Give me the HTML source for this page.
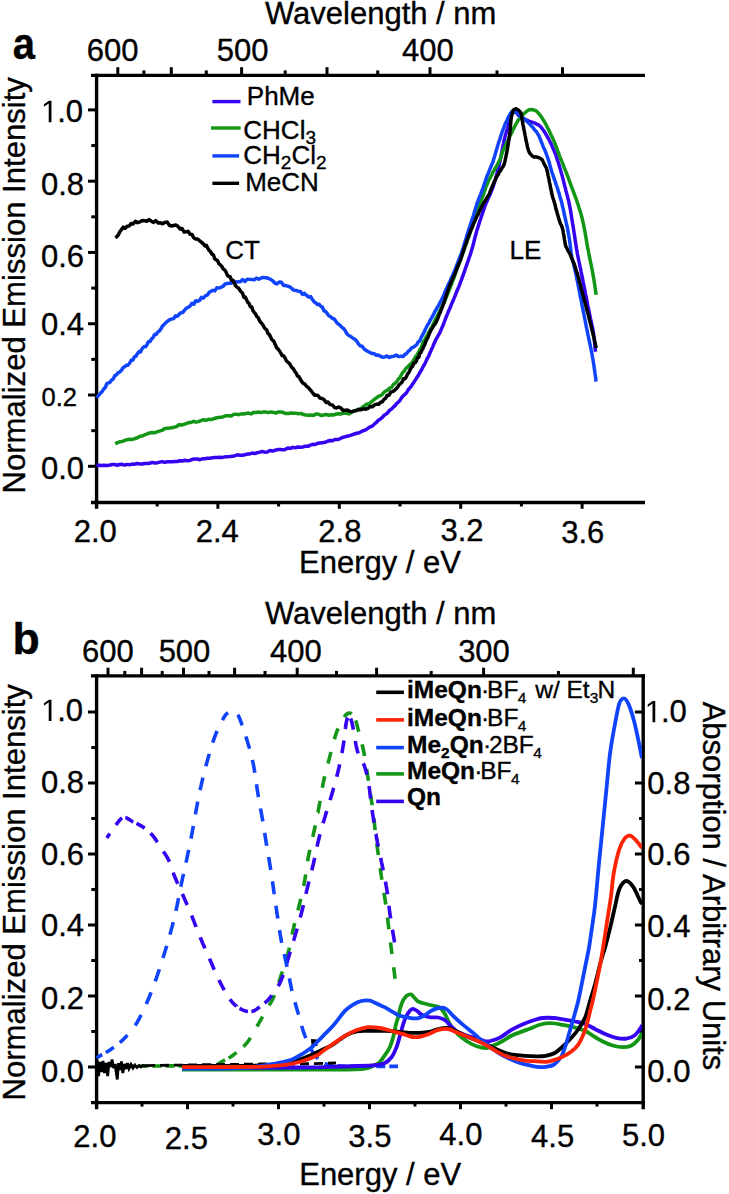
<!DOCTYPE html>
<html><head><meta charset="utf-8"><style>
html,body{margin:0;padding:0;background:#fff;}
svg{display:block;font-family:"Liberation Sans", sans-serif;}
text{stroke:#000;stroke-width:0.35px;}
</style></head><body>
<svg width="729" height="1194" viewBox="0 0 729 1194">
<rect width="729" height="1194" fill="#fff"/>
<line x1="96.60" y1="73.70" x2="96.60" y2="508.80" stroke="#000" stroke-width="3.4" stroke-linecap="butt"/>
<line x1="91.00" y1="75.40" x2="645.00" y2="75.40" stroke="#000" stroke-width="3.4" stroke-linecap="butt"/>
<line x1="91.00" y1="502.50" x2="645.00" y2="502.50" stroke="#000" stroke-width="3.4" stroke-linecap="butt"/>
<line x1="88.00" y1="466.30" x2="96.60" y2="466.30" stroke="#000" stroke-width="3.0" stroke-linecap="butt"/>
<line x1="88.00" y1="395.02" x2="96.60" y2="395.02" stroke="#000" stroke-width="3.0" stroke-linecap="butt"/>
<line x1="88.00" y1="323.74" x2="96.60" y2="323.74" stroke="#000" stroke-width="3.0" stroke-linecap="butt"/>
<line x1="88.00" y1="252.46" x2="96.60" y2="252.46" stroke="#000" stroke-width="3.0" stroke-linecap="butt"/>
<line x1="88.00" y1="181.18" x2="96.60" y2="181.18" stroke="#000" stroke-width="3.0" stroke-linecap="butt"/>
<line x1="88.00" y1="109.90" x2="96.60" y2="109.90" stroke="#000" stroke-width="3.0" stroke-linecap="butt"/>
<line x1="91.30" y1="430.66" x2="96.60" y2="430.66" stroke="#000" stroke-width="3.0" stroke-linecap="butt"/>
<line x1="91.30" y1="359.38" x2="96.60" y2="359.38" stroke="#000" stroke-width="3.0" stroke-linecap="butt"/>
<line x1="91.30" y1="288.10" x2="96.60" y2="288.10" stroke="#000" stroke-width="3.0" stroke-linecap="butt"/>
<line x1="91.30" y1="216.82" x2="96.60" y2="216.82" stroke="#000" stroke-width="3.0" stroke-linecap="butt"/>
<line x1="91.30" y1="145.54" x2="96.60" y2="145.54" stroke="#000" stroke-width="3.0" stroke-linecap="butt"/>
<line x1="217.90" y1="502.50" x2="217.90" y2="508.80" stroke="#000" stroke-width="3.0" stroke-linecap="butt"/>
<line x1="339.30" y1="502.50" x2="339.30" y2="508.80" stroke="#000" stroke-width="3.0" stroke-linecap="butt"/>
<line x1="460.70" y1="502.50" x2="460.70" y2="508.80" stroke="#000" stroke-width="3.0" stroke-linecap="butt"/>
<line x1="582.10" y1="502.50" x2="582.10" y2="508.80" stroke="#000" stroke-width="3.0" stroke-linecap="butt"/>
<line x1="157.20" y1="502.50" x2="157.20" y2="506.50" stroke="#000" stroke-width="3.0" stroke-linecap="butt"/>
<line x1="278.60" y1="502.50" x2="278.60" y2="506.50" stroke="#000" stroke-width="3.0" stroke-linecap="butt"/>
<line x1="400.00" y1="502.50" x2="400.00" y2="506.50" stroke="#000" stroke-width="3.0" stroke-linecap="butt"/>
<line x1="521.40" y1="502.50" x2="521.40" y2="506.50" stroke="#000" stroke-width="3.0" stroke-linecap="butt"/>
<line x1="117.80" y1="75.40" x2="117.80" y2="67.20" stroke="#000" stroke-width="3.0" stroke-linecap="butt"/>
<line x1="171.30" y1="75.40" x2="171.30" y2="67.20" stroke="#000" stroke-width="3.0" stroke-linecap="butt"/>
<line x1="241.60" y1="75.40" x2="241.60" y2="67.20" stroke="#000" stroke-width="3.0" stroke-linecap="butt"/>
<line x1="327.00" y1="75.40" x2="327.00" y2="67.20" stroke="#000" stroke-width="3.0" stroke-linecap="butt"/>
<line x1="430.00" y1="75.40" x2="430.00" y2="67.20" stroke="#000" stroke-width="3.0" stroke-linecap="butt"/>
<line x1="562.50" y1="75.40" x2="562.50" y2="67.20" stroke="#000" stroke-width="3.0" stroke-linecap="butt"/>
<line x1="143.90" y1="75.40" x2="143.90" y2="70.40" stroke="#000" stroke-width="3.0" stroke-linecap="butt"/>
<line x1="206.30" y1="75.40" x2="206.30" y2="70.40" stroke="#000" stroke-width="3.0" stroke-linecap="butt"/>
<line x1="285.20" y1="75.40" x2="285.20" y2="70.40" stroke="#000" stroke-width="3.0" stroke-linecap="butt"/>
<line x1="377.70" y1="75.40" x2="377.70" y2="70.40" stroke="#000" stroke-width="3.0" stroke-linecap="butt"/>
<line x1="497.00" y1="75.40" x2="497.00" y2="70.40" stroke="#000" stroke-width="3.0" stroke-linecap="butt"/>
<text x="12.70" y="59.20" font-size="44" text-anchor="start" font-weight="bold" transform="translate(12.7,59.2) scale(0.91,1.025) translate(-12.7,-59.2)">a</text>
<text x="380.70" y="23.80" font-size="31" text-anchor="middle" font-weight="normal" >Wavelength / nm</text>
<text x="112.70" y="60.60" font-size="31" text-anchor="middle" font-weight="normal" >600</text>
<text x="242.70" y="60.60" font-size="31" text-anchor="middle" font-weight="normal" >500</text>
<text x="427.90" y="60.60" font-size="31" text-anchor="middle" font-weight="normal" >400</text>
<path d="M51.47,122.15 L48.73,122.15 L48.73,103.43 L43.92,106.86 L43.92,104.29 L48.96,100.82 L51.47,100.82 Z" fill="#000"/>
<text x="57.15" y="122.15" font-size="31" text-anchor="start" font-weight="normal" >.0</text>
<text x="84.00" y="195.25" font-size="31" text-anchor="end" font-weight="normal" >0.8</text>
<text x="84.00" y="267.15" font-size="31" text-anchor="end" font-weight="normal" >0.6</text>
<text x="84.00" y="335.35" font-size="31" text-anchor="end" font-weight="normal" >0.4</text>
<text x="84.00" y="479.45" font-size="31" text-anchor="end" font-weight="normal" >0.0</text>
<text x="77.00" y="405.90" font-size="25.5" text-anchor="end" font-weight="normal" >0.2</text>
<text x="95.20" y="541.70" font-size="31" text-anchor="middle" font-weight="normal" >2.0</text>
<text x="217.30" y="541.70" font-size="31" text-anchor="middle" font-weight="normal" >2.4</text>
<text x="339.90" y="541.70" font-size="31" text-anchor="middle" font-weight="normal" >2.8</text>
<text x="462.00" y="541.20" font-size="31" text-anchor="middle" font-weight="normal" >3.2</text>
<text x="582.70" y="543.20" font-size="31" text-anchor="middle" font-weight="normal" >3.6</text>
<text x="380.00" y="573.20" font-size="31" text-anchor="middle" font-weight="normal" >Energy / eV</text>
<text transform="translate(24.8,285.3) rotate(-90)" font-size="31.1" text-anchor="middle">Normalized Emission Intensity</text>
<text x="242.60" y="258.60" font-size="26" text-anchor="middle" font-weight="normal" >CT</text>
<text x="525.50" y="258.60" font-size="26" text-anchor="middle" font-weight="normal" >LE</text>
<path d="M96.60,465.60 L99.15,465.20 L101.68,465.48 L104.11,465.19 L106.76,465.38 L109.27,465.32 L111.87,464.55 L114.49,464.39 L117.11,465.28 L119.66,464.48 L122.10,464.34 L124.64,465.13 L127.12,464.38 L129.60,464.69 L132.10,464.12 L134.60,464.18 L137.11,463.45 L139.62,463.88 L142.13,464.01 L144.64,463.44 L147.15,463.54 L149.65,463.29 L152.16,462.39 L154.68,463.05 L157.19,462.67 L159.71,462.13 L162.22,461.62 L164.73,462.42 L167.24,461.75 L169.76,461.85 L172.27,461.84 L174.78,461.44 L177.29,461.49 L179.81,460.65 L182.32,460.94 L184.83,460.31 L187.35,460.70 L189.86,460.43 L192.37,459.29 L194.88,459.12 L197.40,459.01 L199.91,459.69 L202.43,458.83 L204.94,458.82 L207.45,458.19 L209.95,458.20 L212.45,457.80 L214.95,457.51 L217.45,457.53 L219.95,457.27 L222.45,457.38 L224.95,456.84 L227.45,456.86 L229.95,456.50 L232.45,456.37 L234.94,455.70 L237.42,454.80 L239.89,455.35 L242.35,455.17 L244.81,454.80 L247.27,454.09 L249.75,453.95 L252.24,453.03 L254.74,453.46 L257.27,452.82 L259.83,452.14 L262.30,451.55 L264.80,452.17 L267.34,452.00 L269.92,450.57 L272.52,451.08 L275.12,450.26 L277.70,449.59 L280.25,449.41 L282.75,449.64 L285.19,449.42 L287.76,448.07 L290.29,448.40 L292.83,447.36 L295.24,447.83 L297.80,447.02 L300.26,447.34 L302.66,447.12 L305.26,446.16 L307.87,446.33 L310.27,445.09 L312.74,444.35 L315.20,444.49 L317.67,443.31 L320.13,442.98 L322.59,442.68 L325.05,442.35 L327.51,441.22 L329.96,440.47 L332.42,440.83 L334.87,439.52 L337.37,439.60 L339.94,438.80 L342.27,437.49 L344.60,436.90 L347.13,436.20 L349.58,435.58 L351.90,434.79 L354.25,433.98 L356.79,433.21 L359.14,432.81 L361.60,431.42 L363.93,430.40 L366.14,429.72 L368.28,427.99 L370.36,426.76 L372.34,426.16 L374.30,424.09 L376.35,422.48 L378.27,420.28 L380.16,419.18 L382.11,417.71 L384.06,415.31 L385.98,414.30 L387.82,412.62 L389.70,410.17 L391.54,409.08 L393.33,407.10 L395.07,405.58 L396.77,403.41 L398.48,401.99 L400.16,400.15 L401.78,397.41 L403.38,395.56 L404.98,394.33 L406.55,392.72 L408.06,389.98 L409.57,388.29 L411.08,386.47 L412.60,384.07 L414.10,381.94 L415.42,379.85 L416.76,377.79 L418.09,375.87 L419.41,373.28 L420.69,371.21 L421.94,369.19 L423.15,366.60 L424.32,364.66 L425.45,362.54 L426.55,360.10 L427.65,357.81 L428.75,355.79 L429.83,353.22 L430.90,350.81 L431.88,348.72 L432.85,346.63 L433.90,343.93 L434.90,341.79 L435.91,339.60 L437.07,337.58 L438.41,335.15 L439.65,333.17 L440.76,330.48 L441.78,328.16 L442.70,326.05 L443.66,323.74 L444.55,321.26 L445.44,318.86 L446.33,316.55 L447.30,314.35 L448.27,311.84 L449.24,309.82 L450.21,307.53 L451.18,304.90 L452.16,302.63 L453.13,300.57 L454.11,298.14 L455.06,295.92 L456.00,293.40 L456.95,291.01 L457.90,288.79 L458.84,286.70 L459.79,284.07 L460.73,281.67 L461.62,279.32 L462.49,276.94 L463.37,274.45 L464.17,272.42 L464.95,269.76 L465.81,267.20 L466.62,265.28 L467.45,262.81 L468.31,260.33 L469.14,257.66 L470.00,255.44 L470.78,253.08 L471.51,250.39 L472.25,248.17 L472.92,245.73 L473.54,243.26 L474.18,240.70 L474.83,238.04 L475.50,235.50 L476.21,232.88 L476.92,230.36 L477.67,228.16 L478.45,225.47 L479.17,223.43 L479.98,220.54 L480.76,218.54 L481.58,215.95 L482.41,213.60 L483.19,211.30 L484.01,209.00 L484.86,206.54 L485.75,203.96 L486.64,202.09 L487.70,199.40 L488.79,197.12 L489.79,195.04 L490.73,192.76 L491.67,190.42 L492.62,188.21 L493.42,185.73 L494.24,183.11 L494.98,180.65 L495.66,178.62 L496.32,176.06 L496.96,173.82 L497.61,171.12 L498.22,168.65 L498.84,166.25 L499.41,163.92 L499.94,161.20 L500.45,159.03 L500.92,156.67 L501.40,154.08 L501.89,151.49 L502.38,148.47 L502.89,146.19 L503.41,143.80 L503.95,141.01 L504.52,138.76 L505.13,136.35 L505.78,134.09 L506.43,131.69 L507.15,129.21 L507.84,127.01 L508.54,124.27 L509.32,121.72 L510.06,119.34 L510.85,116.98 L511.84,114.61 L513.05,112.86 L515.00,111.68 L516.78,113.02 L518.39,115.30 L520.26,116.78 L522.40,117.99 L524.79,119.14 L527.20,120.36 L529.61,121.35 L531.88,122.09 L534.30,122.92 L536.75,124.09 L538.96,125.17 L540.89,127.00 L542.50,129.08 L543.89,131.04 L545.15,132.98 L546.48,135.24 L547.81,137.55 L549.02,139.78 L550.25,142.20 L551.38,144.35 L552.45,146.97 L553.45,149.23 L554.44,151.57 L555.40,154.00 L556.30,156.50 L557.11,158.93 L557.86,161.09 L558.59,163.55 L559.30,165.84 L560.04,168.27 L560.75,170.89 L561.45,173.48 L562.10,175.54 L562.75,178.17 L563.41,180.66 L564.07,183.40 L564.72,185.93 L565.35,188.10 L565.99,190.85 L566.64,193.33 L567.29,195.62 L567.92,198.24 L568.52,200.51 L569.11,203.42 L569.68,205.95 L570.16,208.50 L570.59,210.94 L571.00,213.46 L571.39,216.07 L571.78,218.42 L572.20,220.74 L572.60,223.45 L573.01,225.76 L573.42,228.45 L573.80,231.14 L574.20,233.36 L574.59,235.96 L574.96,238.44 L575.34,241.40 L575.74,243.66 L576.12,245.96 L576.55,248.99 L577.00,251.21 L577.45,254.01 L577.92,256.38 L578.42,258.93 L578.93,261.47 L579.44,263.77 L579.96,266.37 L580.48,268.49 L581.00,271.34 L581.50,273.69 L581.99,276.25 L582.49,278.40 L582.99,281.19 L583.48,283.74 L583.98,285.77 L584.47,288.36 L584.96,290.94 L585.45,293.53 L585.95,295.72 L586.45,298.22 L586.95,300.81 L587.45,303.55 L587.94,306.16 L588.43,308.48 L588.91,310.91 L589.39,313.30 L589.91,315.88 L590.42,318.30 L590.99,320.64 L591.54,323.25 L592.08,325.85 L592.58,327.95 L593.05,330.57 L593.47,332.81 L593.83,335.67 L594.14,338.23 L594.42,340.80 L594.69,343.32 L594.93,345.77 L595.16,348.33 L595.39,350.87 L595.50,351.70" fill="none" stroke="#3502f2" stroke-width="3.5" stroke-linejoin="round" stroke-linecap="butt"/>
<path d="M115.20,443.70 L117.69,442.57 L120.17,441.65 L122.55,441.45 L124.89,440.40 L127.34,439.55 L129.88,439.36 L132.44,439.45 L134.99,438.53 L137.42,437.76 L139.86,436.17 L142.38,435.91 L144.74,434.77 L147.14,433.86 L149.58,433.01 L152.04,432.43 L154.52,432.82 L157.00,431.91 L159.48,431.15 L161.93,430.43 L164.36,428.78 L166.78,428.30 L169.21,428.14 L171.63,427.66 L174.05,427.21 L176.48,426.62 L178.90,424.73 L181.32,424.95 L183.75,424.46 L186.17,423.62 L188.60,422.54 L191.03,422.47 L193.48,421.33 L195.96,422.17 L198.44,421.58 L200.92,420.60 L203.39,419.76 L205.87,420.30 L208.35,419.33 L210.83,419.41 L213.31,418.95 L215.79,418.01 L218.26,417.46 L220.75,417.36 L223.29,416.69 L225.84,415.85 L228.42,415.68 L230.99,416.10 L233.55,414.49 L236.09,414.13 L238.59,414.72 L241.05,413.84 L243.44,413.95 L246.00,413.55 L248.58,413.08 L251.01,413.89 L253.62,412.38 L256.14,412.53 L258.60,412.03 L261.03,412.60 L263.44,411.93 L265.86,412.00 L268.31,412.60 L270.84,411.93 L273.37,412.39 L275.89,413.06 L278.39,411.93 L280.90,412.05 L283.40,412.51 L285.92,413.56 L288.46,413.49 L290.98,413.04 L293.46,413.34 L295.95,413.25 L298.45,413.86 L300.96,413.36 L303.47,414.55 L305.99,415.01 L308.50,415.22 L311.00,414.95 L313.54,415.37 L316.18,413.89 L318.62,414.32 L321.07,415.40 L323.50,415.07 L326.13,414.44 L328.64,415.25 L331.21,414.67 L333.71,414.91 L336.30,413.98 L338.83,413.69 L341.38,413.91 L343.91,413.15 L346.36,413.26 L348.85,413.90 L351.22,412.47 L353.70,411.22 L356.06,410.24 L358.25,409.26 L360.49,408.92 L362.59,407.00 L364.75,405.61 L366.91,404.01 L369.13,404.07 L371.34,401.80 L373.48,400.07 L375.58,398.44 L377.62,397.05 L379.59,395.84 L381.59,395.19 L383.68,392.71 L385.56,391.04 L387.50,390.19 L389.49,388.15 L391.45,387.64 L393.33,384.49 L395.08,383.36 L396.75,381.76 L398.29,379.11 L399.75,377.94 L401.19,375.05 L402.65,372.67 L404.26,370.94 L405.94,368.39 L407.62,367.11 L409.26,364.96 L410.84,364.10 L412.40,362.04 L413.90,359.62 L415.48,356.77 L416.90,355.04 L418.20,352.89 L419.38,350.61 L420.44,348.44 L421.50,347.13 L422.56,343.58 L423.65,341.06 L424.77,340.14 L425.91,337.37 L427.15,335.79 L428.42,332.63 L429.62,331.33 L430.89,328.48 L432.12,326.26 L433.29,323.98 L434.46,321.57 L435.60,319.12 L436.78,316.82 L437.87,314.98 L438.96,312.80 L440.03,310.64 L441.17,308.00 L442.25,305.92 L443.33,303.73 L444.36,301.43 L445.38,299.27 L446.38,296.85 L447.39,294.55 L448.35,292.23 L449.33,289.57 L450.26,287.55 L451.15,285.28 L452.05,282.46 L452.95,280.48 L453.84,278.03 L454.73,275.46 L455.59,272.78 L456.42,270.92 L457.30,268.11 L458.14,266.22 L459.02,263.60 L459.90,260.82 L460.73,258.55 L461.62,256.31 L462.47,253.94 L463.36,251.61 L464.20,249.42 L465.07,246.74 L465.95,244.24 L466.84,242.26 L467.74,239.32 L468.55,237.47 L469.39,234.68 L470.19,232.68 L471.01,230.21 L471.83,227.75 L472.67,225.06 L473.49,222.70 L474.30,219.89 L475.09,217.74 L475.92,215.10 L476.80,212.84 L477.66,210.36 L478.56,207.72 L479.42,205.41 L480.34,202.71 L481.23,200.31 L482.12,198.17 L483.00,195.63 L483.87,193.31 L484.71,190.72 L485.54,188.10 L486.37,185.95 L487.31,183.76 L488.34,181.33 L489.48,178.74 L490.60,176.99 L491.79,174.76 L493.02,172.07 L494.26,170.08 L495.47,167.88 L496.67,165.88 L497.88,163.49 L499.07,161.25 L500.19,159.04 L501.09,156.91 L501.82,154.10 L502.64,151.62 L503.60,149.46 L504.65,147.24 L505.69,144.82 L506.82,142.40 L507.89,140.40 L508.96,138.17 L510.12,135.46 L511.20,133.70 L512.27,131.19 L513.39,128.99 L514.47,127.10 L515.63,124.65 L516.88,122.58 L518.18,120.17 L519.76,118.40 L521.47,116.15 L523.22,114.41 L525.11,112.70 L526.99,111.03 L529.13,109.84 L531.60,109.50 L533.95,110.00 L536.20,110.95 L538.10,112.81 L539.87,114.91 L541.36,116.85 L542.77,119.13 L544.06,121.20 L545.35,123.30 L546.57,125.63 L547.74,128.16 L548.91,130.23 L550.04,132.74 L551.11,135.08 L552.15,137.09 L553.19,139.39 L554.19,141.68 L555.15,143.89 L556.05,146.51 L556.94,148.63 L557.86,151.34 L558.70,153.31 L559.63,156.08 L560.53,158.40 L561.46,160.70 L562.39,162.94 L563.30,165.05 L564.22,167.63 L565.14,169.74 L566.09,172.30 L566.95,174.31 L567.84,176.62 L568.73,179.03 L569.63,181.77 L570.53,183.88 L571.43,186.67 L572.31,188.77 L573.20,191.23 L574.09,193.49 L574.99,196.01 L575.86,198.13 L576.70,200.64 L577.50,203.22 L578.32,205.32 L579.11,208.05 L579.88,210.35 L580.60,212.76 L581.27,214.97 L581.94,217.44 L582.58,220.39 L583.14,222.75 L583.64,225.14 L584.13,227.68 L584.60,230.23 L585.06,232.34 L585.52,235.10 L585.95,237.54 L586.39,240.16 L586.80,242.73 L587.22,245.04 L587.65,247.53 L588.12,249.70 L588.59,252.47 L589.08,254.95 L589.59,257.45 L590.10,259.85 L590.62,262.42 L591.14,264.62 L591.64,267.41 L592.14,269.64 L592.61,272.25 L593.06,274.94 L593.47,277.30 L593.89,279.67 L594.30,282.24 L594.70,284.85 L595.07,287.47 L595.46,290.19 L595.82,292.55 L596.20,294.75 L596.20,294.80" fill="none" stroke="#139616" stroke-width="3.5" stroke-linejoin="round" stroke-linecap="butt"/>
<path d="M96.60,397.60 L97.98,396.11 L99.43,394.50 L100.94,392.67 L102.37,391.19 L103.84,388.85 L105.29,387.51 L106.84,383.55 L108.39,382.89 L109.98,382.37 L111.58,380.06 L113.18,379.08 L114.80,375.64 L116.40,374.96 L118.00,372.89 L119.67,372.02 L121.33,370.55 L122.99,367.68 L124.65,366.65 L126.31,365.26 L127.97,365.21 L129.60,363.25 L131.16,360.21 L132.73,360.13 L134.31,356.91 L135.88,356.39 L137.45,353.54 L139.03,351.55 L140.56,351.97 L142.19,348.59 L143.79,346.82 L145.39,346.84 L146.87,344.91 L148.39,341.80 L149.98,341.63 L151.52,338.91 L153.11,337.42 L154.59,334.56 L156.12,334.56 L157.67,332.17 L159.23,331.07 L160.81,329.18 L162.37,326.13 L164.09,324.63 L165.85,322.64 L167.71,321.18 L169.58,319.72 L171.45,319.12 L173.53,318.58 L175.60,315.85 L177.47,316.22 L179.28,314.08 L181.04,312.62 L182.80,312.41 L184.56,310.13 L186.32,308.27 L188.09,307.23 L189.85,306.38 L191.80,303.37 L193.71,304.28 L195.64,300.78 L197.56,301.38 L199.49,300.49 L201.41,297.40 L203.34,298.13 L205.27,295.95 L207.18,295.23 L209.09,292.56 L211.00,291.32 L212.92,290.31 L214.83,290.87 L216.74,287.83 L218.65,288.06 L220.68,287.45 L222.81,286.51 L224.94,284.20 L227.06,283.45 L229.19,283.17 L231.31,283.15 L233.45,281.00 L235.73,282.08 L238.03,281.86 L240.34,281.76 L242.61,279.57 L244.81,281.53 L247.18,279.18 L249.60,279.37 L251.93,279.58 L254.15,279.89 L256.47,278.11 L258.87,279.22 L261.21,278.05 L263.58,277.41 L266.00,277.76 L268.26,278.32 L270.35,279.24 L272.39,280.59 L274.57,282.84 L276.85,283.94 L279.22,282.03 L281.43,282.26 L283.63,285.48 L285.69,285.47 L287.83,286.29 L289.91,286.90 L292.02,288.75 L294.17,290.32 L296.24,290.40 L298.23,291.27 L300.39,291.43 L302.54,294.54 L304.55,293.39 L306.64,295.39 L308.73,297.15 L310.70,296.61 L312.43,299.55 L314.05,301.79 L315.65,302.70 L317.40,304.59 L319.22,304.32 L320.97,306.48 L322.55,307.37 L323.91,310.79 L325.34,311.24 L326.99,313.14 L328.80,315.77 L330.71,316.74 L332.51,318.47 L334.06,318.79 L335.62,320.74 L337.09,323.10 L338.67,324.25 L340.23,325.41 L341.91,327.38 L343.59,328.45 L345.17,330.57 L346.84,333.71 L348.51,335.30 L350.23,336.19 L351.87,337.43 L353.59,338.63 L355.30,339.57 L357.00,341.53 L358.74,344.33 L360.45,346.07 L362.20,346.33 L363.92,348.77 L365.68,350.11 L367.61,351.19 L369.59,352.22 L371.71,353.48 L373.84,353.48 L375.97,355.19 L378.11,355.02 L380.25,356.17 L382.46,357.20 L384.73,357.02 L386.99,355.94 L389.26,357.42 L391.53,356.58 L393.84,356.31 L396.13,355.01 L398.44,356.67 L400.73,356.14 L403.01,356.51 L404.73,354.64 L406.36,353.70 L408.02,351.49 L409.79,350.33 L411.68,347.79 L413.54,347.06 L415.23,345.83 L416.81,344.51 L418.28,341.70 L419.61,340.95 L420.81,338.38 L421.89,336.25 L422.93,334.46 L424.01,332.32 L425.12,329.82 L426.13,327.87 L427.24,325.54 L428.29,324.05 L429.38,322.10 L430.50,319.71 L431.63,317.78 L432.75,315.75 L433.84,313.77 L434.99,311.27 L436.16,309.59 L437.31,307.42 L438.43,305.52 L439.62,303.23 L440.78,301.25 L441.90,299.19 L442.88,297.07 L443.88,294.90 L444.84,292.19 L445.71,290.23 L446.63,288.29 L447.59,286.29 L448.57,283.87 L449.60,282.03 L450.55,279.99 L451.52,277.52 L452.49,275.71 L453.45,273.38 L454.39,271.07 L455.24,269.06 L456.12,266.99 L457.01,264.61 L457.90,262.31 L458.77,259.93 L459.58,258.05 L460.41,255.76 L461.20,253.78 L461.98,251.58 L462.73,249.07 L463.40,247.35 L464.10,244.45 L464.76,242.63 L465.46,240.26 L466.13,238.19 L466.83,235.73 L467.54,233.92 L468.27,231.29 L468.99,228.77 L469.68,227.05 L470.37,224.52 L471.08,222.63 L471.80,220.27 L472.51,218.23 L473.20,216.32 L473.88,214.05 L474.56,211.56 L475.24,209.62 L475.92,207.30 L476.60,204.95 L477.27,202.70 L478.02,200.78 L478.86,198.47 L479.73,196.50 L480.60,194.35 L481.45,192.01 L482.35,189.61 L483.20,187.73 L483.92,185.02 L484.64,182.87 L485.31,181.07 L486.06,178.85 L486.87,176.34 L487.71,174.56 L488.56,172.70 L489.41,170.28 L490.30,168.21 L491.20,166.02 L492.05,163.89 L492.90,161.93 L493.63,159.23 L494.31,157.41 L494.96,155.18 L495.65,152.64 L496.27,150.29 L496.90,148.67 L497.61,145.99 L498.30,143.68 L499.03,141.29 L499.80,139.41 L500.49,136.97 L501.27,134.51 L502.04,132.40 L502.80,130.00 L503.62,128.08 L504.43,125.84 L505.27,123.67 L506.24,121.82 L507.30,119.66 L508.42,116.95 L509.53,115.31 L510.66,113.08 L511.86,111.66 L513.83,110.87 L515.75,111.65 L517.39,113.13 L519.15,114.87 L521.00,117.00 L522.77,117.87 L524.69,119.57 L526.57,121.00 L528.28,122.66 L529.95,124.35 L531.54,126.22 L533.02,127.53 L534.50,129.78 L536.00,131.30 L537.37,133.31 L538.60,135.29 L539.56,137.28 L540.40,139.49 L541.27,141.65 L542.07,143.63 L542.96,146.11 L543.90,148.23 L544.80,149.95 L545.70,152.26 L546.57,154.55 L547.38,156.98 L548.12,159.13 L548.79,161.10 L549.38,162.91 L549.95,165.62 L550.56,167.57 L551.22,169.86 L551.92,172.10 L552.66,174.23 L553.40,176.30 L554.14,178.75 L554.85,180.47 L555.58,182.66 L556.31,185.12 L557.02,186.75 L557.71,188.95 L558.42,191.57 L559.12,193.36 L559.75,196.02 L560.38,198.10 L561.00,200.14 L561.61,202.31 L562.18,204.91 L562.70,207.20 L563.21,208.93 L563.71,211.46 L564.20,213.80 L564.68,215.99 L565.16,218.05 L565.69,220.23 L566.20,222.74 L566.70,225.06 L567.18,226.71 L567.65,229.05 L568.08,231.69 L568.49,233.90 L568.88,236.08 L569.26,237.91 L569.62,240.67 L569.96,243.09 L570.26,245.34 L570.52,247.52 L570.76,249.45 L571.03,252.25 L571.39,254.24 L571.81,256.77 L572.29,259.21 L572.84,261.35 L573.37,263.10 L573.93,265.44 L574.49,268.18 L575.05,270.01 L575.54,272.50 L576.03,274.68 L576.52,276.85 L576.97,279.36 L577.41,281.18 L577.86,283.49 L578.31,285.97 L578.76,288.04 L579.21,290.31 L579.65,292.92 L580.10,295.26 L580.54,297.59 L580.98,299.30 L581.42,301.73 L581.85,303.88 L582.29,306.30 L582.73,308.45 L583.17,311.00 L583.61,312.83 L584.05,314.84 L584.49,317.50 L584.93,319.33 L585.38,321.88 L585.82,324.01 L586.27,326.51 L586.71,328.48 L587.16,330.74 L587.61,332.70 L588.05,335.12 L588.50,337.12 L588.96,339.69 L589.42,341.73 L589.88,343.65 L590.34,345.91 L590.80,348.21 L591.26,350.68 L591.71,352.52 L592.14,355.16 L592.56,357.43 L592.95,359.28 L593.33,362.05 L593.68,363.87 L594.03,366.19 L594.37,368.82 L594.70,370.86 L595.01,373.51 L595.35,375.58 L595.68,377.82 L596.01,380.48 L596.20,381.60" fill="none" stroke="#1044fc" stroke-width="3.5" stroke-linejoin="round" stroke-linecap="butt"/>
<path d="M115.20,237.50 L116.61,236.87 L118.12,235.14 L119.72,232.10 L121.50,229.59 L123.31,227.16 L125.14,228.31 L127.10,226.22 L129.11,226.04 L131.11,223.45 L133.13,224.01 L135.36,221.31 L137.61,222.70 L139.83,221.96 L142.24,220.40 L144.47,220.67 L146.79,221.23 L149.03,219.56 L151.25,221.20 L153.51,222.41 L155.82,220.61 L158.14,222.94 L160.42,222.83 L162.60,223.81 L164.93,222.36 L167.14,221.97 L169.32,225.27 L171.51,226.00 L173.64,225.44 L175.78,224.99 L177.92,226.32 L180.02,228.92 L182.07,228.55 L184.12,232.03 L186.16,231.70 L188.14,231.36 L190.03,234.26 L191.92,234.39 L193.81,237.86 L195.70,239.10 L197.60,238.92 L199.55,240.79 L201.43,242.11 L203.31,243.89 L204.95,245.88 L206.35,245.34 L207.70,248.00 L209.13,250.46 L210.52,251.61 L211.90,254.15 L213.34,254.90 L214.80,258.77 L216.24,259.84 L217.62,260.70 L219.00,263.84 L220.39,264.82 L221.77,266.37 L223.16,268.87 L224.54,269.84 L225.93,271.81 L227.33,275.17 L228.72,276.55 L230.11,276.67 L231.50,280.28 L232.89,280.24 L234.28,282.79 L235.68,285.94 L237.07,287.05 L238.46,288.09 L239.85,290.10 L241.25,292.02 L242.55,293.22 L243.89,297.24 L245.23,296.93 L246.55,299.77 L247.82,302.43 L249.12,303.54 L250.43,306.89 L251.74,307.09 L253.04,310.83 L254.32,312.59 L255.52,313.91 L256.80,316.46 L258.01,317.31 L259.32,320.30 L260.60,322.21 L261.86,323.50 L263.06,325.24 L264.37,327.81 L265.57,328.96 L266.79,330.07 L267.99,333.51 L269.28,334.37 L270.47,336.76 L271.78,339.58 L272.99,340.19 L274.07,341.90 L275.14,344.19 L276.42,347.41 L277.72,348.73 L279.12,350.33 L280.53,352.57 L282.02,355.56 L283.55,355.81 L285.06,358.05 L286.52,360.99 L288.00,362.27 L289.41,363.37 L290.72,365.72 L292.09,367.74 L293.46,368.92 L294.73,371.30 L296.11,373.00 L297.48,375.97 L298.87,376.58 L300.31,379.19 L301.79,381.77 L303.29,383.46 L304.80,383.91 L306.30,386.14 L307.98,387.26 L309.64,389.17 L311.28,391.01 L312.91,393.30 L314.58,395.13 L316.29,395.01 L318.09,395.71 L319.94,398.08 L321.92,398.42 L323.99,399.59 L326.07,402.55 L328.09,402.07 L330.19,404.63 L332.28,404.87 L334.40,407.30 L336.46,408.01 L338.55,406.93 L340.80,408.03 L343.06,410.49 L345.21,410.16 L347.40,410.10 L349.78,411.37 L352.00,411.65 L354.37,410.85 L356.57,410.61 L358.94,409.44 L361.32,409.68 L363.56,408.69 L365.81,409.21 L367.98,408.41 L370.06,406.52 L372.37,406.84 L374.52,404.88 L376.78,404.05 L378.77,404.20 L380.63,402.26 L382.32,401.73 L384.00,399.43 L385.68,398.04 L387.38,395.13 L389.08,395.30 L390.77,391.94 L392.46,391.64 L394.09,390.81 L395.73,389.23 L397.37,387.57 L399.00,384.78 L400.62,383.55 L402.08,382.09 L403.53,378.74 L404.99,378.78 L406.34,376.81 L407.69,373.66 L408.90,372.54 L410.13,369.75 L411.35,367.35 L412.56,366.43 L413.80,362.93 L415.06,362.76 L416.31,361.25 L417.55,357.64 L418.73,357.27 L419.85,353.25 L420.91,352.58 L421.91,350.08 L422.86,348.70 L423.81,346.19 L424.78,344.55 L425.72,341.71 L426.64,339.65 L427.56,338.16 L428.49,335.85 L429.43,333.66 L430.39,331.20 L431.46,329.32 L432.68,327.47 L433.92,325.20 L435.06,324.12 L436.10,321.95 L437.05,320.13 L438.00,317.79 L438.89,315.42 L439.78,313.06 L440.67,311.46 L441.55,308.70 L442.40,306.91 L443.21,304.70 L443.99,302.59 L444.71,300.06 L445.41,297.90 L446.08,296.15 L446.76,293.55 L447.46,291.84 L448.19,289.36 L448.98,287.34 L449.81,285.11 L450.68,283.36 L451.59,281.07 L452.51,278.79 L453.42,276.70 L454.31,274.95 L455.25,273.05 L456.12,270.50 L457.05,267.99 L457.97,265.88 L458.84,263.64 L459.67,261.86 L460.52,259.87 L461.31,257.56 L462.09,254.96 L462.78,252.86 L463.49,250.61 L464.23,248.47 L465.00,246.15 L465.71,244.59 L466.46,241.96 L467.26,239.75 L468.07,237.48 L468.90,235.15 L469.72,233.13 L470.59,230.58 L471.50,228.69 L472.42,226.85 L473.37,224.03 L474.31,222.39 L475.26,220.15 L476.19,217.86 L477.18,215.74 L478.21,214.22 L479.23,211.51 L480.25,209.96 L481.26,207.39 L482.36,205.50 L483.41,203.23 L484.64,201.58 L485.85,199.86 L487.14,197.30 L488.35,195.52 L489.37,193.80 L490.29,191.06 L491.14,189.04 L491.96,187.14 L492.90,185.03 L493.92,182.21 L494.94,180.59 L495.97,178.11 L497.00,176.15 L498.13,174.87 L499.29,172.01 L500.41,170.87 L501.62,168.62 L503.00,166.61 L504.06,164.44 L504.73,162.12 L505.27,159.57 L505.76,157.47 L506.24,154.87 L506.65,153.27 L507.06,151.01 L507.47,148.72 L507.88,145.80 L508.24,143.91 L508.59,141.33 L508.93,139.51 L509.26,137.17 L509.57,135.10 L509.86,132.58 L510.12,130.18 L510.35,127.82 L510.55,124.74 L510.76,122.79 L510.97,120.00 L511.24,118.00 L511.64,115.43 L512.17,113.90 L512.85,110.92 L513.84,109.61 L515.76,108.72 L517.70,109.55 L519.67,111.25 L520.77,112.65 L521.32,115.12 L521.69,117.20 L522.05,119.44 L522.48,121.59 L522.93,124.62 L523.35,126.15 L523.80,128.88 L524.24,130.85 L524.69,132.99 L525.16,135.62 L525.63,137.77 L526.10,140.71 L526.60,142.48 L527.06,144.83 L527.56,147.12 L528.16,149.50 L528.94,151.60 L529.90,153.48 L531.40,155.22 L533.56,157.00 L535.98,156.83 L538.21,157.44 L540.51,158.52 L542.28,159.87 L543.42,162.38 L544.40,164.48 L545.49,166.37 L546.39,168.09 L547.06,170.65 L547.59,172.72 L548.07,175.30 L548.56,177.37 L549.03,179.90 L549.50,182.28 L549.95,184.21 L550.38,186.77 L550.81,189.05 L551.26,190.59 L551.73,193.46 L552.27,195.61 L552.84,197.76 L553.45,199.42 L554.07,201.50 L554.71,203.64 L555.31,206.04 L555.88,208.63 L556.45,210.40 L557.04,212.32 L557.65,214.82 L558.28,216.81 L558.98,219.45 L559.75,221.66 L560.65,224.06 L561.45,225.37 L562.20,227.81 L562.86,229.88 L563.33,232.76 L563.77,235.08 L564.13,237.00 L564.47,239.59 L564.83,241.54 L565.23,244.08 L565.85,246.37 L566.88,248.30 L568.19,250.82 L569.24,252.70 L570.22,254.53 L571.15,256.96 L572.03,258.98 L572.85,261.20 L573.64,262.60 L574.46,264.86 L575.29,267.16 L576.02,269.75 L576.74,272.06 L577.39,273.68 L578.04,276.25 L578.62,278.02 L579.20,280.73 L579.79,283.05 L580.37,284.70 L580.95,287.79 L581.53,289.78 L582.12,291.55 L582.70,293.97 L583.29,295.99 L583.89,298.74 L584.49,301.15 L585.10,302.74 L585.70,304.98 L586.30,307.60 L586.88,309.98 L587.45,312.00 L588.05,314.03 L588.61,315.87 L589.23,318.70 L589.82,320.85 L590.38,323.37 L590.93,325.32 L591.51,327.82 L592.08,330.36 L592.64,332.38 L593.21,335.03 L593.73,336.74 L594.25,338.80 L594.75,341.85 L595.27,343.44 L595.76,346.57 L596.20,348.10" fill="none" stroke="#000" stroke-width="3.5" stroke-linejoin="round" stroke-linecap="butt"/>
<line x1="212.40" y1="101.60" x2="240.50" y2="101.60" stroke="#3502f2" stroke-width="3.4" stroke-linecap="butt"/>
<line x1="211.00" y1="128.00" x2="240.70" y2="128.00" stroke="#139616" stroke-width="3.4" stroke-linecap="butt"/>
<line x1="212.40" y1="155.90" x2="239.10" y2="155.90" stroke="#1044fc" stroke-width="3.4" stroke-linecap="butt"/>
<line x1="212.40" y1="183.30" x2="239.10" y2="183.30" stroke="#000" stroke-width="3.4" stroke-linecap="butt"/>
<text x="246.80" y="104.60" font-size="26" text-anchor="start" font-weight="normal" >PhMe</text>
<text x="243.30" y="138.50" font-size="26" text-anchor="start" font-weight="normal" >CHCl<tspan font-size="19" dy="5.5">3</tspan></text>
<text x="243.30" y="163.50" font-size="26" text-anchor="start" font-weight="normal" >CH<tspan font-size="19" dy="5.5">2</tspan><tspan dy="-5.5">Cl</tspan><tspan font-size="19" dy="5.5">2</tspan></text>
<text x="245.20" y="191.40" font-size="26" text-anchor="start" font-weight="normal" >MeCN</text>
<line x1="96.60" y1="674.20" x2="96.60" y2="1109.20" stroke="#000" stroke-width="3.4" stroke-linecap="butt"/>
<line x1="91.00" y1="675.90" x2="644.90" y2="675.90" stroke="#000" stroke-width="3.4" stroke-linecap="butt"/>
<line x1="91.00" y1="1102.60" x2="644.90" y2="1102.60" stroke="#000" stroke-width="3.4" stroke-linecap="butt"/>
<line x1="643.20" y1="674.20" x2="643.20" y2="1109.20" stroke="#000" stroke-width="3.4" stroke-linecap="butt"/>
<line x1="88.00" y1="1067.00" x2="96.60" y2="1067.00" stroke="#000" stroke-width="3.0" stroke-linecap="butt"/>
<line x1="643.20" y1="1067.00" x2="634.90" y2="1067.00" stroke="#000" stroke-width="3.0" stroke-linecap="butt"/>
<line x1="88.00" y1="996.00" x2="96.60" y2="996.00" stroke="#000" stroke-width="3.0" stroke-linecap="butt"/>
<line x1="643.20" y1="996.00" x2="634.90" y2="996.00" stroke="#000" stroke-width="3.0" stroke-linecap="butt"/>
<line x1="88.00" y1="925.00" x2="96.60" y2="925.00" stroke="#000" stroke-width="3.0" stroke-linecap="butt"/>
<line x1="643.20" y1="925.00" x2="634.90" y2="925.00" stroke="#000" stroke-width="3.0" stroke-linecap="butt"/>
<line x1="88.00" y1="854.00" x2="96.60" y2="854.00" stroke="#000" stroke-width="3.0" stroke-linecap="butt"/>
<line x1="643.20" y1="854.00" x2="634.90" y2="854.00" stroke="#000" stroke-width="3.0" stroke-linecap="butt"/>
<line x1="88.00" y1="783.00" x2="96.60" y2="783.00" stroke="#000" stroke-width="3.0" stroke-linecap="butt"/>
<line x1="643.20" y1="783.00" x2="634.90" y2="783.00" stroke="#000" stroke-width="3.0" stroke-linecap="butt"/>
<line x1="88.00" y1="712.00" x2="96.60" y2="712.00" stroke="#000" stroke-width="3.0" stroke-linecap="butt"/>
<line x1="643.20" y1="712.00" x2="634.90" y2="712.00" stroke="#000" stroke-width="3.0" stroke-linecap="butt"/>
<line x1="91.30" y1="1031.50" x2="96.60" y2="1031.50" stroke="#000" stroke-width="3.0" stroke-linecap="butt"/>
<line x1="643.20" y1="1031.50" x2="639.00" y2="1031.50" stroke="#000" stroke-width="3.0" stroke-linecap="butt"/>
<line x1="91.30" y1="960.50" x2="96.60" y2="960.50" stroke="#000" stroke-width="3.0" stroke-linecap="butt"/>
<line x1="643.20" y1="960.50" x2="639.00" y2="960.50" stroke="#000" stroke-width="3.0" stroke-linecap="butt"/>
<line x1="91.30" y1="889.50" x2="96.60" y2="889.50" stroke="#000" stroke-width="3.0" stroke-linecap="butt"/>
<line x1="643.20" y1="889.50" x2="639.00" y2="889.50" stroke="#000" stroke-width="3.0" stroke-linecap="butt"/>
<line x1="91.30" y1="818.50" x2="96.60" y2="818.50" stroke="#000" stroke-width="3.0" stroke-linecap="butt"/>
<line x1="643.20" y1="818.50" x2="639.00" y2="818.50" stroke="#000" stroke-width="3.0" stroke-linecap="butt"/>
<line x1="91.30" y1="747.50" x2="96.60" y2="747.50" stroke="#000" stroke-width="3.0" stroke-linecap="butt"/>
<line x1="643.20" y1="747.50" x2="639.00" y2="747.50" stroke="#000" stroke-width="3.0" stroke-linecap="butt"/>
<line x1="187.50" y1="1102.60" x2="187.50" y2="1109.20" stroke="#000" stroke-width="3.0" stroke-linecap="butt"/>
<line x1="278.50" y1="1102.60" x2="278.50" y2="1109.20" stroke="#000" stroke-width="3.0" stroke-linecap="butt"/>
<line x1="369.50" y1="1102.60" x2="369.50" y2="1109.20" stroke="#000" stroke-width="3.0" stroke-linecap="butt"/>
<line x1="460.50" y1="1102.60" x2="460.50" y2="1109.20" stroke="#000" stroke-width="3.0" stroke-linecap="butt"/>
<line x1="551.50" y1="1102.60" x2="551.50" y2="1109.20" stroke="#000" stroke-width="3.0" stroke-linecap="butt"/>
<line x1="142.00" y1="1102.60" x2="142.00" y2="1106.60" stroke="#000" stroke-width="3.0" stroke-linecap="butt"/>
<line x1="233.00" y1="1102.60" x2="233.00" y2="1106.60" stroke="#000" stroke-width="3.0" stroke-linecap="butt"/>
<line x1="324.00" y1="1102.60" x2="324.00" y2="1106.60" stroke="#000" stroke-width="3.0" stroke-linecap="butt"/>
<line x1="415.00" y1="1102.60" x2="415.00" y2="1106.60" stroke="#000" stroke-width="3.0" stroke-linecap="butt"/>
<line x1="506.00" y1="1102.60" x2="506.00" y2="1106.60" stroke="#000" stroke-width="3.0" stroke-linecap="butt"/>
<line x1="597.00" y1="1102.60" x2="597.00" y2="1106.60" stroke="#000" stroke-width="3.0" stroke-linecap="butt"/>
<line x1="108.00" y1="675.90" x2="108.00" y2="667.70" stroke="#000" stroke-width="3.0" stroke-linecap="butt"/>
<line x1="141.60" y1="675.90" x2="141.60" y2="667.70" stroke="#000" stroke-width="3.0" stroke-linecap="butt"/>
<line x1="183.50" y1="675.90" x2="183.50" y2="667.70" stroke="#000" stroke-width="3.0" stroke-linecap="butt"/>
<line x1="234.60" y1="675.90" x2="234.60" y2="667.70" stroke="#000" stroke-width="3.0" stroke-linecap="butt"/>
<line x1="297.20" y1="675.90" x2="297.20" y2="667.70" stroke="#000" stroke-width="3.0" stroke-linecap="butt"/>
<line x1="376.60" y1="675.90" x2="376.60" y2="667.70" stroke="#000" stroke-width="3.0" stroke-linecap="butt"/>
<line x1="483.60" y1="675.90" x2="483.60" y2="667.70" stroke="#000" stroke-width="3.0" stroke-linecap="butt"/>
<line x1="633.30" y1="675.90" x2="633.30" y2="667.70" stroke="#000" stroke-width="3.0" stroke-linecap="butt"/>
<line x1="124.80" y1="675.90" x2="124.80" y2="670.90" stroke="#000" stroke-width="3.0" stroke-linecap="butt"/>
<line x1="162.20" y1="675.90" x2="162.20" y2="670.90" stroke="#000" stroke-width="3.0" stroke-linecap="butt"/>
<line x1="209.00" y1="675.90" x2="209.00" y2="670.90" stroke="#000" stroke-width="3.0" stroke-linecap="butt"/>
<line x1="265.00" y1="675.90" x2="265.00" y2="670.90" stroke="#000" stroke-width="3.0" stroke-linecap="butt"/>
<line x1="336.50" y1="675.90" x2="336.50" y2="670.90" stroke="#000" stroke-width="3.0" stroke-linecap="butt"/>
<line x1="431.20" y1="675.90" x2="431.20" y2="670.90" stroke="#000" stroke-width="3.0" stroke-linecap="butt"/>
<line x1="558.40" y1="675.90" x2="558.40" y2="670.90" stroke="#000" stroke-width="3.0" stroke-linecap="butt"/>
<text x="12.60" y="653.60" font-size="44.6" text-anchor="start" font-weight="bold" >b</text>
<text x="380.70" y="624.40" font-size="31" text-anchor="middle" font-weight="normal" >Wavelength / nm</text>
<text x="107.90" y="661.60" font-size="31" text-anchor="middle" font-weight="normal" >600</text>
<text x="184.50" y="661.60" font-size="31" text-anchor="middle" font-weight="normal" >500</text>
<text x="295.90" y="661.60" font-size="31" text-anchor="middle" font-weight="normal" >400</text>
<text x="484.00" y="661.60" font-size="31" text-anchor="middle" font-weight="normal" >300</text>
<path d="M51.47,721.05 L48.73,721.05 L48.73,702.33 L43.92,705.76 L43.92,703.19 L48.96,699.72 L51.47,699.72 Z" fill="#000"/>
<text x="57.15" y="721.05" font-size="31" text-anchor="start" font-weight="normal" >.0</text>
<text x="84.00" y="793.15" font-size="31" text-anchor="end" font-weight="normal" >0.8</text>
<text x="84.00" y="865.25" font-size="31" text-anchor="end" font-weight="normal" >0.6</text>
<text x="84.00" y="935.95" font-size="31" text-anchor="end" font-weight="normal" >0.4</text>
<text x="84.00" y="1009.15" font-size="31" text-anchor="end" font-weight="normal" >0.2</text>
<text x="84.00" y="1081.65" font-size="31" text-anchor="end" font-weight="normal" >0.0</text>
<path d="M655.26,722.25 L652.52,722.25 L652.52,703.53 L647.71,706.96 L647.71,704.39 L652.75,700.92 L655.26,700.92 Z" fill="#000"/>
<text x="660.94" y="722.25" font-size="31" text-anchor="start" font-weight="normal" >.0</text>
<text x="647.30" y="793.95" font-size="31" text-anchor="start" font-weight="normal" >0.8</text>
<text x="647.30" y="865.15" font-size="31" text-anchor="start" font-weight="normal" >0.6</text>
<text x="647.30" y="937.45" font-size="31" text-anchor="start" font-weight="normal" >0.4</text>
<text x="647.30" y="1009.55" font-size="31" text-anchor="start" font-weight="normal" >0.2</text>
<text x="647.30" y="1081.55" font-size="31" text-anchor="start" font-weight="normal" >0.0</text>
<text x="94.90" y="1146.60" font-size="31" text-anchor="middle" font-weight="normal" >2.0</text>
<text x="186.40" y="1148.70" font-size="31" text-anchor="middle" font-weight="normal" >2.5</text>
<text x="278.90" y="1145.20" font-size="31" text-anchor="middle" font-weight="normal" >3.0</text>
<text x="369.90" y="1146.60" font-size="31" text-anchor="middle" font-weight="normal" >3.5</text>
<text x="460.90" y="1145.20" font-size="31" text-anchor="middle" font-weight="normal" >4.0</text>
<text x="552.60" y="1147.00" font-size="31" text-anchor="middle" font-weight="normal" >4.5</text>
<text x="643.50" y="1145.60" font-size="31" text-anchor="middle" font-weight="normal" >5.0</text>
<text x="380.20" y="1184.60" font-size="31" text-anchor="middle" font-weight="normal" >Energy / eV</text>
<text transform="translate(24.8,892.3) rotate(-90)" font-size="31.1" text-anchor="middle">Normalized Emission Intensity</text>
<text transform="translate(703,886) rotate(90)" font-size="31" text-anchor="middle">Absorption / Arbitrary Units</text>
<defs><clipPath id="cpb"><rect x="96" y="674" width="546" height="430"/></clipPath></defs>
<g clip-path="url(#cpb)">
<path d="M349.50,713.00 L349.08,713.00 L348.66,713.06 L348.23,713.20 L347.81,713.40 L347.38,713.65 L346.96,713.95 L346.53,714.30 L346.11,714.68 L345.70,715.10 L345.29,715.55 L344.89,716.01 L344.50,716.50 L344.24,716.84 L344.16,716.96 M338.19,728.50 L338.01,728.85 L337.80,729.27 L337.59,729.72 L337.37,730.21 L337.15,730.73 L336.92,731.31 L336.68,731.94 L336.43,732.63 L336.17,733.38 L335.90,734.20 L335.79,734.54 L335.68,734.90 L335.56,735.26 L335.45,735.64 L335.33,736.03 L335.21,736.43 L335.09,736.84 L334.96,737.26 L334.84,737.69 L334.71,738.13 L334.58,738.58 L334.45,739.03 L334.37,739.29 M330.94,752.03 L330.82,752.51 L330.68,753.04 L330.54,753.57 L330.40,754.09 L330.27,754.61 L330.13,755.13 L330.00,755.65 L329.86,756.16 L329.73,756.66 L329.60,757.16 L329.48,757.66 L329.35,758.14 L329.22,758.63 L329.10,759.10 L328.97,759.61 L328.84,760.11 L328.70,760.62 L328.57,761.12 L328.44,761.61 L328.31,762.11 L328.18,762.60 L328.05,763.09 L327.96,763.45 M324.73,776.24 L324.65,776.57 L324.53,777.07 L324.42,777.57 L324.30,778.07 L324.19,778.57 L324.08,779.08 L323.96,779.59 L323.85,780.10 L323.74,780.62 L323.62,781.14 L323.51,781.67 L323.40,782.20 L323.30,782.67 L323.21,783.14 L323.11,783.61 L323.01,784.09 L322.92,784.57 L322.82,785.06 L322.73,785.55 L322.63,786.05 L322.54,786.54 L322.45,787.04 L322.35,787.55 L322.31,787.79 M320.06,800.80 L320.03,801.01 L319.94,801.52 L319.86,802.02 L319.77,802.52 L319.69,803.02 L319.60,803.51 L319.52,804.00 L319.43,804.49 L319.35,804.97 L319.27,805.45 L319.18,805.92 L319.10,806.39 L319.01,806.86 L318.93,807.32 L318.85,807.77 L318.77,808.22 L318.68,808.66 L318.60,809.10 L318.49,809.68 L318.38,810.25 L318.27,810.80 L318.17,811.35 L318.07,811.88 L317.97,812.41 L317.96,812.41 M315.31,825.34 L315.21,825.78 L315.10,826.31 L314.98,826.84 L314.87,827.39 L314.75,827.95 L314.62,828.52 L314.50,829.10 L314.41,829.53 L314.31,829.97 L314.22,830.41 L314.12,830.86 L314.02,831.31 L313.92,831.76 L313.81,832.23 L313.71,832.69 L313.60,833.16 L313.49,833.63 L313.39,834.11 L313.28,834.59 L313.17,835.08 L313.05,835.57 L312.94,836.06 L312.83,836.55 L312.76,836.86 M309.83,849.73 L309.81,849.84 L309.70,850.35 L309.59,850.85 L309.48,851.35 L309.38,851.85 L309.27,852.35 L309.17,852.84 L309.07,853.33 L308.97,853.82 L308.87,854.30 L308.78,854.78 L308.68,855.26 L308.59,855.73 L308.50,856.20 L308.40,856.73 L308.30,857.26 L308.20,857.79 L308.11,858.32 L308.02,858.84 L307.93,859.36 L307.84,859.88 L307.76,860.40 L307.67,860.92 L307.61,861.32 M305.71,874.38 L305.70,874.42 L305.63,874.92 L305.55,875.41 L305.47,875.91 L305.39,876.41 L305.31,876.90 L305.23,877.40 L305.15,877.90 L305.06,878.40 L304.97,878.90 L304.89,879.40 L304.79,879.90 L304.70,880.40 L304.61,880.89 L304.51,881.39 L304.42,881.88 L304.32,882.37 L304.22,882.86 L304.13,883.36 L304.03,883.85 L303.93,884.34 L303.83,884.83 L303.73,885.32 L303.63,885.82 L303.59,885.99 M300.72,898.87 L300.67,899.09 L300.55,899.58 L300.44,900.07 L300.32,900.57 L300.21,901.06 L300.09,901.55 L299.98,902.04 L299.86,902.53 L299.75,903.02 L299.63,903.52 L299.52,904.01 L299.40,904.50 L299.28,904.99 L299.17,905.48 L299.05,905.98 L298.93,906.47 L298.81,906.96 L298.69,907.45 L298.57,907.94 L298.45,908.43 L298.33,908.93 L298.21,909.42 L298.09,909.91 L297.98,910.35 M294.72,923.14 L294.71,923.18 L294.59,923.68 L294.47,924.17 L294.35,924.66 L294.23,925.15 L294.11,925.64 L293.99,926.14 L293.87,926.63 L293.75,927.12 L293.63,927.61 L293.52,928.11 L293.40,928.60 L293.29,929.09 L293.17,929.59 L293.06,930.08 L292.95,930.57 L292.84,931.07 L292.73,931.56 L292.63,932.05 L292.52,932.55 L292.41,933.04 L292.31,933.53 L292.21,934.03 L292.10,934.52 L292.08,934.64 M289.38,947.56 L289.31,947.87 L289.20,948.36 L289.08,948.85 L288.97,949.35 L288.85,949.84 L288.73,950.33 L288.61,950.83 L288.48,951.32 L288.36,951.81 L288.23,952.31 L288.10,952.80 L287.97,953.28 L287.84,953.77 L287.71,954.26 L287.57,954.74 L287.44,955.23 L287.30,955.72 L287.16,956.22 L287.02,956.71 L286.87,957.20 L286.73,957.70 L286.58,958.19 L286.44,958.69 L286.35,958.96 M282.36,971.53 L282.24,971.89 L282.09,972.36 L281.94,972.83 L281.78,973.29 L281.63,973.75 L281.48,974.21 L281.33,974.67 L281.18,975.12 L281.04,975.57 L280.89,976.02 L280.74,976.46 L280.60,976.90 L280.43,977.43 L280.25,977.97 L280.08,978.50 L279.91,979.02 L279.74,979.55 L279.57,980.08 L279.41,980.60 L279.24,981.12 L279.07,981.64 L278.91,982.16 L278.74,982.66 M274.42,995.10 L274.31,995.37 L274.14,995.79 L273.97,996.20 L273.80,996.60 L273.56,997.14 L273.33,997.66 L273.10,998.17 L272.86,998.66 L272.63,999.14 L272.40,999.61 L272.17,1000.06 L271.93,1000.50 L271.70,1000.93 L271.47,1001.36 L271.24,1001.78 L271.00,1002.19 L270.77,1002.60 L270.53,1003.00 L270.29,1003.40 L270.05,1003.80 L269.81,1004.20 L269.57,1004.60 L269.32,1005.00 L269.10,1005.36 M262.59,1016.66 L262.52,1016.78 L262.26,1017.23 L262.00,1017.69 L261.74,1018.15 L261.48,1018.61 L261.21,1019.07 L260.95,1019.53 L260.69,1020.00 L260.42,1020.46 L260.16,1020.92 L259.89,1021.38 L259.63,1021.84 L259.36,1022.30 L259.10,1022.76 L258.84,1023.21 L258.57,1023.67 L258.31,1024.12 L258.05,1024.57 L257.79,1025.02 L257.53,1025.46 L257.27,1025.90 L257.01,1026.34 L256.91,1026.50 M250.42,1037.82 L250.35,1037.93 L250.08,1038.35 L249.81,1038.78 L249.54,1039.20 L249.27,1039.62 L248.99,1040.03 L248.70,1040.44 L248.42,1040.85 L248.12,1041.25 L247.83,1041.65 L247.53,1042.04 L247.22,1042.43 L246.91,1042.82 L246.60,1043.20 L246.27,1043.59 L245.93,1043.97 L245.58,1044.36 L245.23,1044.74 L244.87,1045.12 L244.51,1045.50 L244.13,1045.88 L243.76,1046.25 L243.39,1046.61 M236.51,1052.51 L236.23,1052.73 L235.85,1053.03 L235.47,1053.32 L235.10,1053.61 L234.73,1053.89 L234.37,1054.16 L234.02,1054.43 L233.67,1054.69 L233.33,1054.95 L233.00,1055.20 L232.49,1055.58 L231.99,1055.94 L231.50,1056.28 L231.02,1056.60 L230.55,1056.91 L230.08,1057.20 L229.63,1057.48 L229.18,1057.75 L228.73,1058.01 L228.59,1058.09 M225.04,1059.95 L224.97,1059.98 L224.58,1060.18 L224.18,1060.38 L223.78,1060.59 L223.39,1060.79 L223.00,1061.00 L222.49,1061.28 L222.01,1061.56 L221.56,1061.84 L221.13,1062.11 L220.71,1062.38 L220.31,1062.64 L219.91,1062.89 L219.51,1063.14 L219.11,1063.37 L218.69,1063.60 L218.26,1063.82 L217.80,1064.03 L217.32,1064.23 L217.17,1064.28 M213.46,1065.57 L213.38,1065.58 L213.18,1065.60 L212.93,1065.62 L212.60,1065.63 L212.20,1065.65 L211.70,1065.66 L211.11,1065.68 L210.42,1065.69 L209.61,1065.70 L208.68,1065.71 L207.62,1065.73 L206.41,1065.74 L205.06,1065.75 L204.47,1065.76 M200.47,1065.80 L200.00,1065.80 L199.71,1065.80 L199.41,1065.81 L199.11,1065.81 L198.80,1065.81 L198.48,1065.81 L198.16,1065.82 L197.83,1065.82 L197.50,1065.82 L197.16,1065.82 L196.81,1065.83 L196.46,1065.83 L196.10,1065.83 L195.74,1065.83 L195.37,1065.84 L194.99,1065.84 L194.61,1065.84 L194.22,1065.84 L193.83,1065.84 L193.43,1065.85 L193.03,1065.85 L192.62,1065.85 L192.20,1065.85 L191.79,1065.85 L191.47,1065.86 M187.47,1065.87 L187.33,1065.87 L186.85,1065.88 L186.38,1065.88 L185.90,1065.88 L185.41,1065.88 L184.93,1065.88 L184.43,1065.88 L183.94,1065.89 L183.44,1065.89 L182.93,1065.89 L182.42,1065.89 L181.91,1065.89 L181.39,1065.89 L180.88,1065.90 L180.35,1065.90 L179.83,1065.90 L179.30,1065.90 L178.76,1065.90 L178.47,1065.90 M174.47,1065.91 L174.38,1065.91 L173.82,1065.91 L173.26,1065.92 L172.69,1065.92 L172.13,1065.92 L171.56,1065.92 L170.98,1065.92 L170.41,1065.92 L169.83,1065.92 L169.25,1065.92 L168.67,1065.93 L168.08,1065.93 L167.50,1065.93 L166.91,1065.93 L166.32,1065.93 L165.73,1065.93 L165.47,1065.93 M161.47,1065.94 L160.93,1065.94 L160.33,1065.94 L159.72,1065.94 L159.11,1065.94 L158.50,1065.94 L157.89,1065.94 L157.28,1065.94 L156.67,1065.95 L156.06,1065.95 L155.45,1065.95 L154.83,1065.95 L154.22,1065.95 L153.60,1065.95 L152.99,1065.95 L152.47,1065.95 M148.47,1065.96 L148.06,1065.96 L147.45,1065.96 L146.83,1065.96 L146.22,1065.96 L145.60,1065.96 L144.99,1065.96 L144.37,1065.96 L143.76,1065.96 L143.15,1065.96 L142.54,1065.96 L141.92,1065.96 L141.31,1065.96 L140.71,1065.96 L140.10,1065.96 L139.49,1065.96 L139.47,1065.96 M135.47,1065.97 L135.27,1065.97 L134.68,1065.97 L134.08,1065.97 L133.49,1065.97 L132.90,1065.97 L132.31,1065.97 L131.72,1065.97 L131.13,1065.97 L130.55,1065.97 L129.97,1065.97 L129.39,1065.97 L128.81,1065.97 L128.24,1065.97 L127.67,1065.97 L127.10,1065.97 L126.53,1065.97 L126.47,1065.97 M122.47,1065.98 L122.09,1065.98 L121.55,1065.98 L121.01,1065.98 L120.47,1065.98 L119.94,1065.98 L119.41,1065.98 L118.89,1065.98 L118.37,1065.98 L117.85,1065.98 L117.33,1065.98 L116.82,1065.98 L116.32,1065.98 L115.81,1065.98 L115.32,1065.98 L114.82,1065.98 L114.33,1065.98 L113.84,1065.98 L113.47,1065.98 M109.47,1065.99 L109.22,1065.99 L108.78,1065.99 L108.35,1065.99 L107.92,1065.99 L107.50,1065.99 L107.08,1065.99 L106.67,1065.99 L106.26,1065.99 L105.86,1065.99 L105.46,1065.99 L105.07,1065.99 L104.69,1065.99 L104.31,1065.99 L103.94,1065.99 L103.57,1065.99 L103.21,1065.99 L102.85,1065.99 L102.50,1065.99 L102.15,1065.99 L101.82,1065.99 L101.48,1065.99 L101.16,1066.00 L100.84,1066.00 L100.53,1066.00 L100.47,1066.00 M349.50,713.00 L349.89,713.07 L350.29,713.19 L350.69,713.36 L351.09,713.58 L351.50,713.86 L351.66,713.98 M355.71,720.35 L355.75,720.48 L355.89,720.90 L356.02,721.33 L356.15,721.79 L356.28,722.26 L356.42,722.75 L356.55,723.27 L356.70,723.81 L356.84,724.37 L357.00,724.97 L357.16,725.59 L357.33,726.24 L357.51,726.93 L357.70,727.65 L357.90,728.40 L358.00,728.77 L358.10,729.15 L358.21,729.53 L358.31,729.93 L358.43,730.34 L358.54,730.76 L358.65,731.18 L358.77,731.62 L358.78,731.64 M362.09,744.41 L362.17,744.78 L362.30,745.31 L362.43,745.84 L362.56,746.37 L362.68,746.90 L362.80,747.43 L362.92,747.95 L363.04,748.47 L363.16,748.99 L363.27,749.50 L363.38,750.01 L363.49,750.51 L363.60,751.01 L363.70,751.50 L363.80,752.00 L363.91,752.51 L364.01,753.01 L364.11,753.52 L364.20,754.02 L364.30,754.53 L364.40,755.04 L364.49,755.55 L364.56,755.95 M366.65,768.98 L366.70,769.27 L366.77,769.75 L366.84,770.24 L366.92,770.73 L366.99,771.21 L367.06,771.69 L367.14,772.16 L367.21,772.64 L367.28,773.11 L367.35,773.58 L367.43,774.04 L367.50,774.50 L367.59,775.05 L367.67,775.60 L367.76,776.14 L367.84,776.68 L367.93,777.21 L368.01,777.74 L368.09,778.27 L368.17,778.79 L368.25,779.31 L368.33,779.82 L368.41,780.34 L368.45,780.64 M370.40,793.70 L370.48,794.20 L370.55,794.71 L370.63,795.21 L370.71,795.71 L370.79,796.22 L370.87,796.72 L370.94,797.22 L371.02,797.72 L371.10,798.22 L371.18,798.71 L371.26,799.21 L371.34,799.71 L371.42,800.21 L371.50,800.71 L371.58,801.21 L371.66,801.71 L371.74,802.21 L371.82,802.71 L371.89,803.21 L371.97,803.71 L372.05,804.21 L372.13,804.71 L372.21,805.21 L372.23,805.36 M373.94,818.45 L373.98,818.84 L374.03,819.34 L374.08,819.84 L374.13,820.35 L374.18,820.85 L374.23,821.36 L374.28,821.86 L374.33,822.37 L374.38,822.88 L374.43,823.39 L374.48,823.89 L374.53,824.40 L374.58,824.91 L374.63,825.42 L374.68,825.93 L374.73,826.44 L374.78,826.96 L374.83,827.47 L374.89,827.98 L374.94,828.49 L374.99,829.00 L375.04,829.51 L375.10,830.02 L375.11,830.19 M376.73,843.29 L376.74,843.35 L376.81,843.84 L376.87,844.33 L376.94,844.83 L377.01,845.32 L377.07,845.82 L377.14,846.32 L377.21,846.82 L377.28,847.32 L377.35,847.82 L377.42,848.33 L377.49,848.84 L377.56,849.36 L377.63,849.87 L377.70,850.39 L377.77,850.92 L377.85,851.45 L377.92,851.98 L378.00,852.51 L378.07,853.05 L378.15,853.60 L378.22,854.15 L378.30,854.70 L378.34,854.98 M380.19,868.05 L380.20,868.08 L380.27,868.60 L380.35,869.12 L380.42,869.63 L380.50,870.15 L380.58,870.67 L380.65,871.19 L380.73,871.70 L380.80,872.22 L380.88,872.74 L380.95,873.25 L381.03,873.76 L381.10,874.28 L381.18,874.79 L381.25,875.30 L381.33,875.81 L381.40,876.32 L381.48,876.82 L381.55,877.32 L381.63,877.83 L381.70,878.33 L381.78,878.82 L381.85,879.32 L381.91,879.72 M383.99,892.76 L384.03,892.99 L384.11,893.49 L384.19,893.99 L384.27,894.49 L384.35,894.99 L384.43,895.49 L384.51,895.99 L384.59,896.49 L384.67,896.99 L384.75,897.49 L384.83,897.99 L384.90,898.49 L384.98,898.99 L385.06,899.49 L385.14,899.99 L385.21,900.49 L385.29,900.99 L385.36,901.49 L385.44,901.99 L385.51,902.49 L385.58,902.99 L385.66,903.49 L385.73,904.00 L385.79,904.42 M387.46,917.51 L387.47,917.56 L387.53,918.06 L387.59,918.56 L387.65,919.07 L387.71,919.57 L387.77,920.07 L387.83,920.57 L387.89,921.07 L387.95,921.57 L388.01,922.08 L388.07,922.58 L388.13,923.08 L388.19,923.58 L388.25,924.08 L388.31,924.58 L388.37,925.09 L388.43,925.59 L388.49,926.09 L388.55,926.59 L388.61,927.09 L388.68,927.60 L388.74,928.10 L388.80,928.60 L388.86,929.10 L388.88,929.22 M390.51,942.32 L390.55,942.72 L390.62,943.22 L390.68,943.71 L390.74,944.21 L390.80,944.72 L390.87,945.22 L390.93,945.73 L390.99,946.25 L391.06,946.76 L391.12,947.28 L391.19,947.80 L391.25,948.33 L391.32,948.86 L391.39,949.40 L391.45,949.93 L391.52,950.48 L391.59,951.03 L391.66,951.58 L391.73,952.14 L391.80,952.70 L391.86,953.16 L391.92,953.63 L391.97,954.03 M393.61,967.13 L393.67,967.56 L393.74,968.14 L393.81,968.73 L393.89,969.31 L393.96,969.88 L394.03,970.46 L394.10,971.03 L394.18,971.59 L394.25,972.15 L394.32,972.70 L394.38,973.25 L394.45,973.79 L394.52,974.32 L394.59,974.84 L394.65,975.36 L394.71,975.87 L394.78,976.37 L394.84,976.85 L394.90,977.33 L394.96,977.80 L395.01,978.25 L395.07,978.70 L395.09,978.84 " fill="none" stroke="#139616" stroke-width="3.6" stroke-linecap="butt" stroke-linejoin="round"/>
<path d="M347.73,717.64 L347.71,717.67 L347.55,717.97 L347.40,718.31 L347.24,718.70 L347.09,719.14 L346.94,719.63 L346.79,720.19 L346.64,720.80 L346.48,721.49 L346.33,722.25 L346.17,723.08 L346.00,724.00 L345.94,724.35 L345.88,724.71 L345.82,725.09 L345.77,725.48 L345.71,725.88 L345.65,726.29 L345.60,726.71 L345.55,727.15 L345.49,727.59 L345.44,728.04 L345.38,728.51 L345.33,728.98 L345.32,729.03 M344.00,740.45 L343.93,740.92 L343.85,741.50 L343.77,742.07 L343.68,742.65 L343.59,743.23 L343.50,743.80 L343.43,744.25 L343.35,744.70 L343.28,745.16 L343.20,745.62 L343.12,746.08 L343.04,746.55 L342.96,747.02 L342.88,747.50 L342.80,747.97 L342.72,748.45 L342.63,748.93 L342.55,749.42 L342.46,749.91 L342.38,750.40 L342.29,750.89 L342.20,751.39 L342.11,751.88 L342.02,752.38 L341.93,752.89 L341.89,753.08 M339.66,764.36 L339.60,764.66 L339.49,765.17 L339.38,765.68 L339.27,766.18 L339.16,766.69 L339.04,767.19 L338.93,767.70 L338.81,768.20 L338.70,768.70 L338.59,769.19 L338.47,769.68 L338.36,770.16 L338.24,770.65 L338.13,771.13 L338.01,771.62 L337.89,772.10 L337.77,772.59 L337.65,773.07 L337.53,773.55 L337.41,774.03 L337.29,774.52 L337.17,775.00 L337.04,775.48 L336.92,775.96 L336.80,776.44 L336.70,776.81 M333.66,787.90 L333.59,788.12 L333.45,788.62 L333.31,789.12 L333.17,789.62 L333.02,790.12 L332.88,790.63 L332.73,791.14 L332.59,791.65 L332.44,792.16 L332.29,792.67 L332.15,793.18 L332.00,793.70 L331.87,794.16 L331.74,794.62 L331.60,795.08 L331.46,795.55 L331.33,796.02 L331.19,796.50 L331.05,796.98 L330.90,797.46 L330.76,797.94 L330.61,798.43 L330.47,798.92 L330.32,799.41 L330.17,799.90 L330.11,800.12 M326.75,811.07 L326.64,811.43 L326.48,811.92 L326.33,812.41 L326.18,812.90 L326.03,813.38 L325.89,813.87 L325.74,814.35 L325.59,814.82 L325.45,815.30 L325.31,815.77 L325.17,816.23 L325.02,816.70 L324.89,817.16 L324.75,817.61 L324.61,818.06 L324.48,818.51 L324.35,818.95 L324.22,819.39 L324.09,819.82 L323.96,820.25 L323.84,820.67 L323.72,821.09 L323.60,821.50 L323.43,822.09 L323.27,822.66 L323.13,823.14 M320.04,834.20 L320.03,834.23 L319.91,834.68 L319.79,835.14 L319.67,835.60 L319.55,836.07 L319.43,836.54 L319.31,837.02 L319.19,837.50 L319.07,837.99 L318.94,838.49 L318.82,838.99 L318.69,839.50 L318.56,840.03 L318.43,840.56 L318.30,841.10 L318.19,841.55 L318.08,842.00 L317.98,842.46 L317.87,842.92 L317.76,843.38 L317.66,843.85 L317.55,844.32 L317.44,844.79 L317.34,845.26 L317.23,845.74 L317.12,846.22 L317.03,846.64 M314.65,857.89 L314.57,858.26 L314.46,858.77 L314.35,859.28 L314.24,859.78 L314.13,860.29 L314.02,860.80 L313.91,861.30 L313.79,861.81 L313.68,862.31 L313.57,862.81 L313.46,863.31 L313.34,863.81 L313.23,864.31 L313.12,864.81 L313.00,865.30 L312.88,865.79 L312.77,866.29 L312.65,866.78 L312.53,867.28 L312.41,867.77 L312.29,868.27 L312.17,868.76 L312.05,869.26 L311.93,869.75 L311.81,870.25 L311.78,870.36 M308.97,881.51 L308.93,881.65 L308.81,882.14 L308.68,882.63 L308.56,883.12 L308.44,883.60 L308.31,884.09 L308.19,884.58 L308.07,885.07 L307.95,885.55 L307.83,886.04 L307.71,886.52 L307.59,887.00 L307.47,887.48 L307.35,887.97 L307.23,888.44 L307.12,888.92 L307.00,889.40 L306.88,889.91 L306.76,890.41 L306.64,890.91 L306.52,891.41 L306.40,891.91 L306.29,892.41 L306.17,892.91 L306.06,893.40 L305.94,893.89 L305.93,893.94 M303.38,905.16 L303.29,905.54 L303.17,906.03 L303.06,906.52 L302.94,907.01 L302.82,907.50 L302.70,907.99 L302.58,908.49 L302.46,908.98 L302.34,909.48 L302.21,909.98 L302.09,910.48 L301.96,910.99 L301.83,911.49 L301.70,912.00 L301.58,912.47 L301.46,912.94 L301.33,913.41 L301.21,913.89 L301.08,914.36 L300.95,914.84 L300.83,915.32 L300.70,915.80 L300.57,916.28 L300.44,916.76 L300.30,917.25 L300.22,917.56 M297.10,928.62 L296.99,929.01 L296.85,929.49 L296.71,929.98 L296.56,930.47 L296.42,930.95 L296.28,931.44 L296.14,931.92 L296.00,932.40 L295.86,932.88 L295.73,933.36 L295.59,933.84 L295.45,934.31 L295.31,934.79 L295.17,935.26 L295.04,935.73 L294.90,936.20 L294.75,936.70 L294.61,937.20 L294.46,937.70 L294.31,938.20 L294.17,938.71 L294.02,939.22 L293.87,939.72 L293.72,940.23 L293.57,940.74 L293.54,940.81 M290.23,951.79 L290.11,952.19 L289.96,952.66 L289.82,953.13 L289.68,953.59 L289.54,954.05 L289.40,954.51 L289.26,954.96 L289.13,955.41 L288.99,955.85 L288.86,956.29 L288.73,956.72 L288.60,957.15 L288.47,957.57 L288.35,957.98 L288.22,958.39 L288.10,958.80 L287.92,959.40 L287.74,960.00 L287.57,960.58 L287.40,961.15 L287.24,961.71 L287.08,962.26 L286.92,962.80 L286.77,963.33 L286.62,963.85 L286.61,963.88 M283.20,974.83 L283.13,975.03 L282.94,975.53 L282.76,976.03 L282.58,976.52 L282.39,977.01 L282.21,977.49 L282.03,977.96 L281.85,978.43 L281.66,978.89 L281.48,979.35 L281.29,979.81 L281.10,980.26 L280.91,980.71 L280.71,981.16 L280.52,981.60 L280.32,982.05 L280.11,982.49 L279.90,982.93 L279.69,983.36 L279.47,983.80 L279.25,984.24 L279.02,984.68 L278.79,985.12 L278.55,985.56 L278.30,986.00 L278.23,986.12 M271.91,995.26 L271.66,995.57 L271.36,995.94 L271.07,996.30 L270.78,996.66 L270.50,997.00 L270.11,997.47 L269.75,997.91 L269.40,998.33 L269.06,998.72 L268.74,999.09 L268.42,999.44 L268.11,999.79 L267.80,1000.12 L267.48,1000.44 L267.16,1000.76 L266.83,1001.07 L266.48,1001.39 L266.11,1001.71 L265.73,1002.04 L265.32,1002.38 L264.88,1002.74 L264.54,1003.00 M259.76,1006.85 L259.66,1006.93 L259.22,1007.28 L258.78,1007.62 L258.34,1007.95 L257.89,1008.28 L257.44,1008.61 L256.98,1008.92 L256.53,1009.23 L256.07,1009.53 L255.61,1009.81 L255.16,1010.08 L254.70,1010.33 L254.25,1010.56 L253.80,1010.78 L253.35,1010.97 L252.90,1011.14 L252.46,1011.29 L252.03,1011.41 L251.60,1011.50 L251.42,1011.53 M247.94,1011.54 L247.55,1011.48 L247.04,1011.38 L246.53,1011.27 L246.02,1011.14 L245.50,1010.99 L245.00,1010.83 L244.49,1010.66 L243.98,1010.47 L243.48,1010.27 L242.99,1010.06 L242.49,1009.84 L242.00,1009.61 L241.52,1009.37 L241.04,1009.13 L240.57,1008.88 L240.11,1008.62 L239.65,1008.36 L239.59,1008.33 M236.49,1006.27 L236.49,1006.26 L236.12,1005.97 L235.76,1005.68 L235.40,1005.37 L235.05,1005.06 L234.69,1004.73 L234.34,1004.40 L233.99,1004.05 L233.65,1003.69 L233.30,1003.32 L232.95,1002.94 L232.60,1002.54 L232.24,1002.14 L231.89,1001.71 L231.53,1001.27 L231.17,1000.82 L230.81,1000.35 L230.44,999.86 L230.07,999.36 L229.97,999.23 M224.31,990.18 L224.05,989.72 L223.80,989.25 L223.54,988.78 L223.28,988.31 L223.03,987.84 L222.77,987.37 L222.52,986.89 L222.26,986.42 L222.01,985.94 L221.76,985.46 L221.51,984.99 L221.26,984.51 L221.01,984.03 L220.77,983.56 L220.52,983.09 L220.28,982.61 L220.04,982.14 L219.80,981.68 L219.56,981.21 L219.33,980.75 L219.10,980.29 L218.93,979.97 M214.23,969.79 L214.15,969.59 L213.95,969.12 L213.75,968.65 L213.55,968.18 L213.36,967.71 L213.16,967.24 L212.97,966.78 L212.77,966.31 L212.58,965.84 L212.38,965.37 L212.19,964.90 L211.99,964.43 L211.80,963.96 L211.60,963.50 L211.40,963.03 L211.21,962.56 L211.01,962.09 L210.81,961.62 L210.61,961.15 L210.41,960.68 L210.21,960.21 L210.01,959.74 L209.81,959.27 L209.60,958.80 L209.54,958.66 M204.94,948.36 L204.83,948.09 L204.62,947.64 L204.42,947.19 L204.22,946.73 L204.02,946.27 L203.82,945.81 L203.61,945.35 L203.41,944.88 L203.21,944.41 L203.00,943.94 L202.79,943.47 L202.59,942.99 L202.38,942.50 L202.17,942.02 L201.96,941.53 L201.75,941.03 L201.54,940.53 L201.33,940.02 L201.11,939.51 L200.90,939.00 L200.72,938.58 L200.55,938.15 L200.37,937.71 L200.22,937.34 M196.04,926.82 L196.02,926.74 L195.82,926.25 L195.63,925.75 L195.44,925.26 L195.24,924.77 L195.05,924.27 L194.86,923.78 L194.67,923.30 L194.48,922.81 L194.29,922.33 L194.10,921.85 L193.92,921.37 L193.73,920.89 L193.55,920.42 L193.36,919.95 L193.18,919.49 L193.00,919.03 L192.82,918.57 L192.64,918.12 L192.46,917.67 L192.28,917.23 L192.11,916.79 L191.94,916.36 L191.77,915.94 L191.60,915.52 L191.56,915.44 M187.18,904.99 L187.05,904.69 L186.86,904.26 L186.68,903.82 L186.49,903.39 L186.30,902.96 L186.11,902.53 L185.92,902.09 L185.73,901.65 L185.54,901.21 L185.34,900.76 L185.15,900.31 L184.95,899.86 L184.75,899.40 L184.54,898.93 L184.34,898.46 L184.13,897.98 L183.92,897.50 L183.70,897.00 L183.51,896.57 L183.32,896.13 L183.13,895.69 L182.93,895.25 L182.73,894.80 L182.53,894.35 L182.36,893.96 M177.73,883.68 L177.69,883.59 L177.49,883.13 L177.28,882.66 L177.08,882.20 L176.88,881.74 L176.68,881.28 L176.48,880.83 L176.29,880.37 L176.10,879.92 L175.91,879.48 L175.72,879.03 L175.53,878.60 L175.35,878.16 L175.17,877.73 L175.00,877.30 L174.80,876.79 L174.60,876.29 L174.40,875.78 L174.21,875.28 L174.03,874.78 L173.85,874.28 L173.67,873.79 L173.50,873.29 L173.33,872.80 L173.25,872.55 M169.45,861.80 L169.39,861.68 L169.20,861.25 L169.00,860.83 L168.80,860.40 L168.57,859.93 L168.33,859.45 L168.08,858.99 L167.83,858.52 L167.58,858.07 L167.32,857.61 L167.06,857.16 L166.79,856.71 L166.52,856.26 L166.25,855.82 L165.97,855.38 L165.70,854.95 L165.42,854.52 L165.14,854.09 L164.86,853.66 L164.57,853.24 L164.29,852.82 L164.01,852.40 L163.73,851.98 L163.44,851.57 L163.38,851.47 M157.38,842.24 L157.11,841.80 L156.85,841.37 L156.58,840.94 L156.31,840.52 L156.04,840.10 L155.77,839.68 L155.50,839.27 L155.22,838.86 L154.94,838.45 L154.65,838.05 L154.36,837.65 L154.06,837.25 L153.76,836.86 L153.45,836.47 L153.13,836.08 L152.80,835.70 L152.46,835.32 L152.12,834.94 L151.77,834.57 L151.41,834.19 L151.05,833.82 L150.69,833.46 L150.53,833.30 M144.64,828.27 L144.45,828.12 L144.06,827.83 L143.67,827.55 L143.28,827.27 L142.90,827.00 L142.45,826.69 L142.00,826.39 L141.55,826.11 L141.10,825.83 L140.65,825.56 L140.20,825.31 L139.75,825.06 L139.30,824.81 L138.85,824.58 L138.39,824.35 L137.94,824.12 L137.49,823.91 L137.04,823.69 L136.59,823.48 L136.45,823.41 M133.28,821.93 L133.00,821.80 L132.53,821.56 L132.06,821.30 L131.59,821.02 L131.11,820.72 L130.64,820.42 L130.16,820.10 L129.69,819.79 L129.21,819.48 L128.74,819.17 L128.26,818.87 L127.79,818.59 L127.32,818.33 L126.85,818.09 L126.38,817.88 L125.92,817.70 L125.46,817.55 L125.45,817.55 M122.09,818.00 L121.74,818.22 L121.37,818.49 L121.01,818.79 L120.66,819.12 L120.30,819.47 L119.95,819.84 L119.59,820.23 L119.24,820.65 L118.89,821.07 L118.55,821.52 L118.20,821.97 L117.86,822.43 L117.51,822.90 L117.17,823.37 L116.83,823.84 L116.49,824.31 L116.16,824.78 L116.00,825.00 M109.78,833.57 L109.46,834.04 L109.16,834.50 L108.86,834.95 L108.57,835.38 L108.29,835.79 L108.03,836.18 L107.78,836.55 L107.55,836.90 L107.33,837.22 L107.14,837.51 L106.96,837.77 L106.80,838.00 M350.61,718.60 L350.80,719.00 L350.92,719.31 L351.04,719.63 L351.16,719.97 L351.27,720.34 L351.39,720.72 L351.51,721.12 L351.62,721.54 L351.74,721.98 L351.86,722.44 L351.98,722.91 L352.09,723.41 L352.21,723.92 L352.33,724.45 L352.46,725.00 L352.58,725.56 L352.70,726.14 L352.83,726.74 L352.96,727.36 L353.09,728.00 L353.22,728.65 L353.36,729.32 L353.41,729.55 M355.32,740.89 L355.36,741.17 L355.45,741.72 L355.54,742.27 L355.64,742.81 L355.73,743.35 L355.82,743.89 L355.92,744.41 L356.01,744.93 L356.11,745.44 L356.20,745.94 L356.30,746.43 L356.40,746.91 L356.50,747.38 L356.60,747.83 L356.70,748.27 L356.80,748.70 L356.90,749.11 L357.00,749.50 L357.19,750.17 L357.38,750.81 L357.57,751.42 L357.77,752.01 L357.98,752.57 L358.19,753.11 L358.27,753.32 M363.33,763.43 L363.44,763.64 L363.64,764.03 L363.84,764.47 L364.04,764.95 L364.25,765.49 L364.47,766.10 L364.70,766.80 L364.81,767.16 L364.93,767.54 L365.05,767.92 L365.17,768.31 L365.29,768.71 L365.41,769.12 L365.54,769.55 L365.66,769.98 L365.79,770.41 L365.91,770.86 L366.04,771.32 L366.17,771.79 L366.30,772.26 L366.43,772.75 L366.55,773.24 L366.68,773.74 L366.81,774.25 L366.91,774.64 M369.08,785.93 L369.12,786.28 L369.19,786.76 L369.26,787.26 L369.32,787.75 L369.39,788.26 L369.45,788.76 L369.51,789.27 L369.58,789.79 L369.64,790.31 L369.70,790.83 L369.76,791.35 L369.82,791.88 L369.88,792.40 L369.95,792.93 L370.01,793.46 L370.07,793.99 L370.13,794.53 L370.19,795.06 L370.25,795.59 L370.31,796.12 L370.37,796.65 L370.43,797.18 L370.49,797.71 L370.55,798.23 L370.59,798.64 M372.08,810.04 L372.16,810.55 L372.23,811.07 L372.31,811.58 L372.38,812.09 L372.46,812.60 L372.53,813.10 L372.61,813.60 L372.68,814.10 L372.76,814.60 L372.83,815.10 L372.91,815.60 L372.98,816.09 L373.06,816.58 L373.13,817.07 L373.21,817.56 L373.29,818.05 L373.36,818.54 L373.44,819.03 L373.52,819.52 L373.59,820.00 L373.67,820.49 L373.75,820.98 L373.83,821.46 L373.90,821.95 L373.98,822.44 L374.02,822.69 M375.91,834.04 L375.92,834.05 L376.00,834.54 L376.09,835.02 L376.18,835.52 L376.27,836.01 L376.36,836.52 L376.45,837.03 L376.55,837.55 L376.64,838.07 L376.74,838.60 L376.84,839.14 L376.94,839.69 L377.05,840.25 L377.16,840.82 L377.27,841.40 L377.38,842.00 L377.50,842.60 L377.58,843.03 L377.67,843.46 L377.75,843.89 L377.84,844.34 L377.93,844.78 L378.02,845.24 L378.11,845.69 L378.21,846.16 L378.30,846.61 M380.66,857.87 L380.72,858.19 L380.83,858.71 L380.94,859.23 L381.05,859.75 L381.16,860.26 L381.27,860.78 L381.37,861.30 L381.48,861.81 L381.59,862.32 L381.69,862.84 L381.80,863.35 L381.90,863.85 L382.01,864.36 L382.11,864.86 L382.21,865.36 L382.31,865.86 L382.41,866.36 L382.51,866.85 L382.61,867.33 L382.71,867.82 L382.80,868.30 L382.90,868.81 L383.00,869.31 L383.10,869.82 L383.20,870.32 L383.22,870.41 M385.43,881.69 L385.52,882.16 L385.61,882.64 L385.70,883.13 L385.79,883.62 L385.88,884.10 L385.97,884.59 L386.06,885.07 L386.15,885.56 L386.23,886.05 L386.32,886.53 L386.41,887.02 L386.49,887.51 L386.58,888.00 L386.66,888.48 L386.74,888.97 L386.82,889.46 L386.91,889.95 L386.99,890.44 L387.07,890.93 L387.15,891.42 L387.22,891.91 L387.30,892.40 L387.38,892.90 L387.45,893.40 L387.52,893.89 L387.58,894.31 M388.94,905.73 L388.96,905.92 L389.02,906.41 L389.07,906.91 L389.13,907.40 L389.19,907.90 L389.24,908.41 L389.30,908.91 L389.36,909.43 L389.42,909.94 L389.49,910.46 L389.55,910.98 L389.62,911.51 L389.68,912.04 L389.75,912.58 L389.83,913.12 L389.90,913.67 L389.97,914.23 L390.05,914.79 L390.13,915.35 L390.21,915.92 L390.30,916.50 L390.37,916.94 L390.43,917.39 L390.51,917.86 L390.58,918.33 L390.59,918.42 M392.44,929.77 L392.45,929.81 L392.55,930.39 L392.65,930.97 L392.74,931.55 L392.84,932.13 L392.94,932.71 L393.04,933.28 L393.14,933.86 L393.23,934.43 L393.33,934.99 L393.43,935.56 L393.52,936.12 L393.62,936.67 L393.71,937.22 L393.81,937.76 L393.90,938.30 L393.99,938.83 L394.08,939.35 L394.17,939.87 L394.26,940.38 L394.34,940.88 L394.43,941.37 L394.51,941.85 L394.59,942.33 L394.60,942.39 " fill="none" stroke="#3502f2" stroke-width="3.6" stroke-linecap="butt" stroke-linejoin="round"/>
<path d="M228.06,712.77 L227.84,712.91 L227.38,713.24 L226.93,713.60 L226.50,714.00 L226.21,714.29 L225.93,714.59 L225.66,714.90 L225.40,715.23 L225.14,715.57 L224.88,715.93 L224.63,716.30 L224.38,716.69 L224.13,717.09 L223.88,717.51 L223.63,717.95 L223.37,718.41 L223.11,718.89 L222.85,719.39 L222.58,719.91 L222.45,720.16 M217.09,731.07 L216.90,731.49 L216.69,731.99 L216.47,732.50 L216.25,733.02 L216.03,733.55 L215.81,734.09 L215.59,734.63 L215.37,735.19 L215.15,735.75 L214.93,736.33 L214.72,736.91 L214.50,737.50 L214.36,737.90 L214.21,738.30 L214.07,738.71 L213.92,739.13 L213.77,739.55 L213.63,739.98 L213.48,740.41 L213.33,740.85 L213.18,741.30 L213.03,741.75 L212.88,742.20 L212.74,742.64 M209.30,753.86 L209.25,754.05 L209.10,754.56 L208.95,755.07 L208.80,755.58 L208.66,756.09 L208.51,756.60 L208.37,757.11 L208.22,757.62 L208.08,758.12 L207.94,758.62 L207.79,759.13 L207.65,759.63 L207.51,760.12 L207.37,760.62 L207.24,761.11 L207.10,761.60 L206.96,762.09 L206.83,762.58 L206.69,763.07 L206.56,763.56 L206.43,764.05 L206.29,764.54 L206.16,765.03 L206.03,765.52 L205.89,766.01 L205.82,766.29 M202.95,777.53 L202.87,777.88 L202.75,778.38 L202.63,778.87 L202.51,779.37 L202.39,779.86 L202.27,780.36 L202.15,780.85 L202.04,781.35 L201.92,781.85 L201.81,782.34 L201.69,782.84 L201.58,783.33 L201.46,783.83 L201.35,784.32 L201.24,784.82 L201.12,785.31 L201.01,785.81 L200.90,786.30 L200.79,786.79 L200.68,787.29 L200.57,787.78 L200.46,788.27 L200.36,788.76 L200.25,789.25 L200.15,789.74 L200.05,790.20 M197.78,801.57 L197.71,801.93 L197.62,802.42 L197.52,802.92 L197.43,803.41 L197.34,803.91 L197.24,804.41 L197.15,804.91 L197.05,805.41 L196.96,805.91 L196.86,806.41 L196.77,806.91 L196.68,807.42 L196.58,807.92 L196.48,808.43 L196.39,808.94 L196.29,809.45 L196.20,809.97 L196.10,810.48 L196.00,811.00 L195.91,811.47 L195.82,811.95 L195.73,812.42 L195.64,812.90 L195.55,813.39 L195.47,813.87 L195.38,814.35 M193.35,825.77 L193.33,825.86 L193.25,826.37 L193.16,826.87 L193.07,827.38 L192.98,827.88 L192.89,828.38 L192.80,828.88 L192.71,829.38 L192.62,829.88 L192.53,830.38 L192.44,830.87 L192.35,831.37 L192.27,831.86 L192.18,832.36 L192.09,832.85 L192.00,833.34 L191.91,833.82 L191.82,834.31 L191.73,834.79 L191.64,835.27 L191.55,835.75 L191.46,836.22 L191.37,836.70 L191.28,837.17 L191.19,837.63 L191.10,838.10 L191.01,838.56 M188.69,849.92 L188.60,850.33 L188.50,850.82 L188.39,851.31 L188.29,851.80 L188.18,852.29 L188.08,852.78 L187.97,853.27 L187.87,853.75 L187.76,854.24 L187.66,854.73 L187.55,855.21 L187.45,855.70 L187.35,856.18 L187.24,856.67 L187.14,857.15 L187.03,857.64 L186.93,858.12 L186.82,858.61 L186.72,859.09 L186.62,859.58 L186.51,860.06 L186.41,860.55 L186.31,861.03 L186.20,861.51 L186.10,862.00 L185.99,862.51 L185.96,862.64 M183.50,873.97 L183.44,874.27 L183.33,874.76 L183.23,875.24 L183.12,875.73 L183.01,876.22 L182.91,876.70 L182.80,877.19 L182.70,877.68 L182.59,878.17 L182.48,878.67 L182.38,879.16 L182.27,879.65 L182.16,880.15 L182.06,880.65 L181.95,881.15 L181.84,881.65 L181.74,882.15 L181.63,882.66 L181.52,883.16 L181.41,883.67 L181.31,884.19 L181.20,884.70 L181.10,885.17 L181.00,885.65 L180.90,886.13 L180.81,886.61 L180.79,886.69 M178.55,898.07 L178.48,898.42 L178.38,898.92 L178.28,899.42 L178.18,899.92 L178.09,900.43 L177.99,900.93 L177.88,901.43 L177.78,901.93 L177.68,902.43 L177.58,902.93 L177.48,903.43 L177.38,903.93 L177.27,904.43 L177.17,904.93 L177.06,905.43 L176.96,905.93 L176.85,906.42 L176.75,906.92 L176.64,907.42 L176.53,907.91 L176.42,908.41 L176.31,908.91 L176.20,909.40 L176.09,909.89 L175.98,910.39 L175.89,910.79 M173.22,922.08 L173.18,922.24 L173.06,922.74 L172.93,923.23 L172.81,923.73 L172.69,924.22 L172.56,924.71 L172.44,925.21 L172.31,925.70 L172.19,926.20 L172.06,926.69 L171.93,927.18 L171.81,927.68 L171.68,928.17 L171.55,928.67 L171.42,929.16 L171.29,929.65 L171.16,930.15 L171.03,930.64 L170.90,931.14 L170.77,931.63 L170.64,932.12 L170.50,932.62 L170.37,933.11 L170.23,933.61 L170.10,934.10 L169.97,934.58 L169.95,934.66 M166.72,945.82 L166.70,945.87 L166.56,946.36 L166.41,946.85 L166.26,947.34 L166.11,947.83 L165.96,948.32 L165.81,948.81 L165.66,949.29 L165.51,949.78 L165.36,950.27 L165.21,950.75 L165.07,951.24 L164.92,951.72 L164.77,952.20 L164.62,952.68 L164.47,953.16 L164.32,953.64 L164.17,954.12 L164.02,954.59 L163.87,955.06 L163.73,955.54 L163.58,956.01 L163.43,956.48 L163.28,956.95 L163.14,957.41 L162.99,957.88 L162.92,958.12 M159.34,969.27 L159.24,969.58 L159.08,970.06 L158.92,970.53 L158.77,971.01 L158.61,971.48 L158.45,971.96 L158.29,972.43 L158.13,972.90 L157.97,973.38 L157.81,973.85 L157.65,974.32 L157.49,974.80 L157.32,975.27 L157.16,975.75 L157.00,976.22 L156.83,976.70 L156.66,977.17 L156.50,977.65 L156.33,978.12 L156.16,978.60 L155.99,979.08 L155.82,979.56 L155.65,980.04 L155.47,980.52 L155.30,981.00 L155.18,981.33 M151.07,992.41 L150.91,992.83 L150.72,993.31 L150.54,993.78 L150.35,994.25 L150.17,994.73 L149.98,995.20 L149.79,995.67 L149.60,996.14 L149.41,996.62 L149.22,997.09 L149.02,997.56 L148.83,998.03 L148.63,998.50 L148.44,998.97 L148.24,999.44 L148.04,999.92 L147.84,1000.39 L147.63,1000.86 L147.43,1001.32 L147.22,1001.79 L147.02,1002.26 L146.81,1002.73 L146.60,1003.20 L146.39,1003.66 L146.25,1003.98 M141.14,1014.86 L141.04,1015.05 L140.80,1015.52 L140.57,1015.99 L140.33,1016.45 L140.09,1016.92 L139.86,1017.38 L139.62,1017.83 L139.38,1018.29 L139.14,1018.74 L138.90,1019.19 L138.66,1019.63 L138.42,1020.07 L138.17,1020.51 L137.93,1020.94 L137.69,1021.37 L137.45,1021.79 L137.20,1022.21 L136.96,1022.63 L136.72,1023.04 L136.47,1023.44 L136.23,1023.84 L135.99,1024.23 L135.74,1024.62 L135.50,1025.00 L135.22,1025.44 M127.48,1035.14 L127.46,1035.16 L127.13,1035.51 L126.80,1035.86 L126.47,1036.20 L126.15,1036.54 L125.82,1036.88 L125.49,1037.21 L125.16,1037.54 L124.83,1037.88 L124.50,1038.20 L124.18,1038.53 L123.85,1038.86 L123.53,1039.18 L123.20,1039.50 L122.80,1039.89 L122.41,1040.27 L122.01,1040.65 L121.62,1041.01 L121.23,1041.37 L120.83,1041.73 L120.44,1042.08 L120.05,1042.42 L119.84,1042.61 M113.83,1047.29 L113.73,1047.36 L113.32,1047.65 L112.91,1047.94 L112.49,1048.23 L112.08,1048.52 L111.65,1048.81 L111.23,1049.11 L110.80,1049.40 L110.39,1049.68 L109.96,1049.96 L109.52,1050.25 L109.06,1050.54 L108.60,1050.84 L108.12,1051.13 L107.64,1051.43 L107.15,1051.73 L106.65,1052.03 L106.15,1052.32 L105.83,1052.51 M102.23,1054.59 L102.14,1054.63 L101.66,1054.90 L101.19,1055.17 L100.73,1055.43 L100.28,1055.68 L99.84,1055.92 L99.42,1056.16 L99.01,1056.38 L98.63,1056.60 L98.26,1056.80 L97.91,1057.00 L97.58,1057.18 L97.27,1057.36 L96.99,1057.52 L96.73,1057.67 L96.50,1057.80 M237.79,714.84 L237.90,715.00 L238.10,715.31 L238.29,715.64 L238.49,715.99 L238.68,716.36 L238.87,716.75 L239.06,717.15 L239.25,717.56 L239.44,717.99 L239.63,718.43 L239.81,718.89 L240.00,719.36 L240.18,719.84 L240.37,720.32 L240.55,720.82 L240.74,721.33 L240.92,721.84 L241.11,722.36 L241.29,722.89 L241.48,723.42 L241.67,723.95 L241.85,724.49 L242.04,725.03 L242.13,725.29 M245.86,736.47 L245.99,736.88 L246.15,737.38 L246.30,737.89 L246.46,738.38 L246.61,738.88 L246.76,739.37 L246.91,739.86 L247.06,740.34 L247.21,740.82 L247.35,741.29 L247.49,741.75 L247.63,742.21 L247.77,742.66 L247.90,743.10 L248.07,743.65 L248.23,744.19 L248.39,744.72 L248.55,745.25 L248.70,745.77 L248.85,746.28 L249.00,746.79 L249.15,747.29 L249.29,747.78 L249.43,748.28 L249.57,748.74 M252.46,760.02 L252.46,760.03 L252.56,760.46 L252.65,760.89 L252.75,761.32 L252.84,761.76 L252.94,762.21 L253.03,762.67 L253.13,763.14 L253.23,763.63 L253.32,764.13 L253.43,764.66 L253.53,765.20 L253.63,765.76 L253.74,766.35 L253.85,766.97 L253.96,767.62 L254.08,768.29 L254.20,769.00 L254.27,769.39 L254.33,769.79 L254.40,770.20 L254.47,770.61 L254.53,771.04 L254.60,771.47 L254.67,771.91 L254.74,772.36 L254.81,772.81 M256.47,784.29 L256.53,784.67 L256.60,785.21 L256.68,785.76 L256.76,786.30 L256.84,786.84 L256.92,787.39 L257.00,787.93 L257.08,788.47 L257.16,789.00 L257.24,789.54 L257.33,790.07 L257.41,790.60 L257.49,791.12 L257.57,791.65 L257.65,792.17 L257.74,792.68 L257.82,793.19 L257.90,793.70 L257.98,794.19 L258.06,794.69 L258.15,795.18 L258.23,795.68 L258.31,796.17 L258.40,796.67 L258.48,797.13 M260.54,808.54 L260.54,808.56 L260.63,809.05 L260.72,809.54 L260.81,810.04 L260.90,810.53 L260.99,811.03 L261.08,811.52 L261.17,812.01 L261.26,812.51 L261.35,813.00 L261.44,813.49 L261.53,813.98 L261.62,814.48 L261.70,814.97 L261.79,815.46 L261.88,815.95 L261.96,816.44 L262.05,816.93 L262.13,817.42 L262.22,817.91 L262.30,818.40 L262.38,818.90 L262.47,819.40 L262.55,819.90 L262.64,820.40 L262.72,820.90 L262.79,821.35 M264.63,832.80 L264.64,832.85 L264.72,833.35 L264.80,833.84 L264.87,834.33 L264.95,834.83 L265.03,835.32 L265.11,835.81 L265.19,836.30 L265.26,836.79 L265.34,837.28 L265.42,837.77 L265.50,838.25 L265.57,838.74 L265.65,839.23 L265.73,839.71 L265.81,840.19 L265.89,840.68 L265.96,841.16 L266.04,841.64 L266.12,842.12 L266.20,842.60 L266.28,843.11 L266.37,843.61 L266.45,844.12 L266.53,844.62 L266.62,845.12 L266.70,845.61 L266.70,845.63 M268.65,857.07 L268.68,857.25 L268.76,857.74 L268.85,858.23 L268.93,858.72 L269.01,859.21 L269.09,859.70 L269.18,860.20 L269.26,860.70 L269.34,861.20 L269.42,861.70 L269.51,862.21 L269.59,862.72 L269.67,863.23 L269.75,863.74 L269.83,864.26 L269.92,864.78 L270.00,865.30 L270.07,865.77 L270.15,866.25 L270.22,866.73 L270.30,867.21 L270.37,867.69 L270.45,868.18 L270.52,868.66 L270.60,869.15 L270.67,869.64 L270.71,869.91 M272.41,881.38 L272.47,881.74 L272.54,882.25 L272.62,882.76 L272.69,883.27 L272.76,883.79 L272.84,884.30 L272.91,884.81 L272.99,885.32 L273.06,885.83 L273.14,886.34 L273.21,886.85 L273.28,887.36 L273.36,887.87 L273.43,888.37 L273.51,888.88 L273.58,889.39 L273.65,889.89 L273.73,890.40 L273.80,890.90 L273.87,891.40 L273.95,891.91 L274.02,892.41 L274.09,892.92 L274.17,893.42 L274.24,893.93 L274.28,894.24 M275.92,905.73 L275.97,906.13 L276.05,906.63 L276.12,907.14 L276.19,907.64 L276.26,908.15 L276.34,908.65 L276.41,909.16 L276.48,909.66 L276.55,910.16 L276.62,910.66 L276.70,911.16 L276.77,911.66 L276.84,912.16 L276.92,912.66 L276.99,913.15 L277.06,913.65 L277.13,914.14 L277.21,914.64 L277.28,915.13 L277.35,915.62 L277.43,916.11 L277.50,916.60 L277.58,917.12 L277.66,917.63 L277.73,918.15 L277.80,918.59 M279.50,930.07 L279.53,930.24 L279.61,930.73 L279.68,931.23 L279.76,931.73 L279.84,932.22 L279.92,932.72 L280.00,933.22 L280.08,933.71 L280.16,934.21 L280.24,934.71 L280.33,935.20 L280.41,935.70 L280.49,936.20 L280.58,936.70 L280.67,937.19 L280.75,937.69 L280.84,938.19 L280.93,938.69 L281.02,939.19 L281.11,939.70 L281.21,940.20 L281.30,940.70 L281.39,941.19 L281.49,941.68 L281.58,942.18 L281.68,942.67 L281.72,942.87 M284.20,954.21 L284.25,954.43 L284.36,954.92 L284.48,955.41 L284.59,955.90 L284.70,956.40 L284.82,956.89 L284.93,957.39 L285.04,957.88 L285.16,958.38 L285.27,958.87 L285.38,959.37 L285.49,959.87 L285.61,960.37 L285.72,960.87 L285.83,961.37 L285.94,961.87 L286.05,962.37 L286.16,962.88 L286.27,963.38 L286.38,963.89 L286.49,964.39 L286.60,964.90 L286.70,965.38 L286.80,965.87 L286.91,966.36 L287.01,966.85 L287.02,966.90 M289.32,978.27 L289.41,978.70 L289.51,979.22 L289.62,979.73 L289.72,980.24 L289.82,980.75 L289.93,981.26 L290.03,981.76 L290.13,982.26 L290.23,982.76 L290.34,983.26 L290.44,983.75 L290.54,984.23 L290.64,984.71 L290.74,985.19 L290.84,985.66 L290.94,986.13 L291.04,986.60 L291.13,987.05 L291.23,987.51 L291.33,987.95 L291.43,988.39 L291.52,988.83 L291.62,989.26 L291.71,989.68 L291.81,990.09 L291.90,990.50 L292.01,990.98 M294.96,1002.20 L295.07,1002.59 L295.20,1003.03 L295.32,1003.47 L295.45,1003.91 L295.57,1004.34 L295.70,1004.77 L295.82,1005.20 L295.94,1005.63 L296.06,1006.05 L296.18,1006.48 L296.30,1006.90 L296.47,1007.50 L296.63,1008.07 L296.79,1008.63 L296.95,1009.17 L297.10,1009.69 L297.25,1010.20 L297.40,1010.70 L297.54,1011.18 L297.68,1011.66 L297.83,1012.13 L297.97,1012.60 L298.11,1013.06 L298.25,1013.52 L298.39,1013.98 L298.53,1014.45 L298.58,1014.61 M301.70,1025.86 L301.78,1026.15 L301.92,1026.65 L302.05,1027.14 L302.19,1027.64 L302.33,1028.13 L302.47,1028.62 L302.61,1029.10 L302.76,1029.58 L302.90,1030.06 L303.05,1030.53 L303.20,1030.99 L303.35,1031.45 L303.50,1031.90 L303.68,1032.42 L303.86,1032.93 L304.04,1033.43 L304.22,1033.93 L304.41,1034.43 L304.59,1034.92 L304.78,1035.40 L304.97,1035.88 L305.16,1036.36 L305.35,1036.83 L305.55,1037.31 L305.74,1037.78 L305.90,1038.14 M311.02,1048.95 L311.03,1048.96 L311.27,1049.43 L311.51,1049.89 L311.76,1050.34 L312.01,1050.80 L312.26,1051.24 L312.51,1051.69 L312.76,1052.12 L313.02,1052.55 L313.28,1052.96 L313.54,1053.37 L313.80,1053.77 L314.07,1054.16 L314.33,1054.54 L314.60,1054.90 L314.95,1055.36 L315.31,1055.81 L315.68,1056.24 L316.05,1056.67 L316.43,1057.08 L316.81,1057.48 L317.19,1057.87 L317.58,1058.25 L317.97,1058.62 L318.04,1058.69 M324.60,1063.37 L324.87,1063.50 L325.28,1063.69 L325.69,1063.87 L326.13,1064.03 L326.58,1064.19 L327.05,1064.33 L327.56,1064.47 L328.10,1064.61 L328.69,1064.74 L329.32,1064.87 L330.00,1065.00 L330.37,1065.07 L330.71,1065.13 L331.03,1065.20 L331.34,1065.26 L331.64,1065.32 L331.92,1065.37 L332.21,1065.42 L332.49,1065.48 L332.77,1065.52 L333.05,1065.57 L333.28,1065.61 M337.27,1065.96 L337.48,1065.97 L338.08,1066.00 L338.74,1066.03 L339.45,1066.05 L340.22,1066.08 L341.04,1066.10 L341.93,1066.13 L342.88,1066.15 L343.90,1066.18 L345.00,1066.20 L345.33,1066.21 L345.66,1066.21 L346.01,1066.22 L346.26,1066.22 M350.26,1066.28 L350.51,1066.28 L350.97,1066.28 L351.45,1066.29 L351.92,1066.29 L352.41,1066.29 L352.90,1066.30 L353.41,1066.30 L353.91,1066.31 L354.43,1066.31 L354.95,1066.31 L355.48,1066.32 L356.01,1066.32 L356.55,1066.32 L357.09,1066.33 L357.64,1066.33 L358.20,1066.33 L358.76,1066.34 L359.26,1066.34 M363.26,1066.35 L363.38,1066.35 L363.97,1066.36 L364.57,1066.36 L365.17,1066.36 L365.77,1066.36 L366.37,1066.36 L366.97,1066.36 L367.58,1066.37 L368.18,1066.37 L368.79,1066.37 L369.40,1066.37 L370.01,1066.37 L370.61,1066.37 L371.22,1066.37 L371.83,1066.37 L372.26,1066.37 M376.26,1066.38 L376.66,1066.38 L377.26,1066.38 L377.85,1066.38 L378.44,1066.38 L379.03,1066.38 L379.61,1066.38 L380.19,1066.38 L380.77,1066.38 L381.34,1066.38 L381.91,1066.38 L382.48,1066.38 L383.04,1066.39 L383.59,1066.39 L384.14,1066.39 L384.69,1066.39 L385.23,1066.39 L385.26,1066.39 M389.26,1066.39 L389.32,1066.39 L389.81,1066.39 L390.28,1066.39 L390.74,1066.39 L391.20,1066.39 L391.65,1066.39 L392.09,1066.39 L392.52,1066.39 L392.94,1066.39 L393.35,1066.39 L393.75,1066.39 L394.14,1066.39 L394.53,1066.39 L394.90,1066.39 L395.26,1066.39 L395.61,1066.39 L395.95,1066.39 L396.28,1066.40 L396.59,1066.40 L396.90,1066.40 L397.19,1066.40 L397.47,1066.40 L397.74,1066.40 L398.00,1066.40 " fill="none" stroke="#1044fc" stroke-width="3.6" stroke-linecap="butt" stroke-linejoin="round"/>
<path d="M97.00,1060.00 L98.50,1076.00 L100.00,1062.00 L101.50,1072.00 L103.00,1061.00 L104.50,1073.00 L106.00,1063.00 L107.70,1076.00 L109.00,1062.00 L110.50,1067.00 L112.00,1059.50 L113.50,1068.00 L115.00,1064.00 L117.30,1079.50 L118.50,1063.00 L120.00,1070.00 L121.40,1061.50 L122.80,1073.00 L124.50,1064.00 L126.00,1069.00 L127.50,1063.00 L129.00,1068.50 L131.00,1064.50 L133.00,1068.00 L135.00,1065.00 L137.00,1067.50 L139.00,1065.50 L141.00,1067.00 L143.00,1065.50 L146.00,1066.00" fill="none" stroke="#000" stroke-width="2.8" stroke-linejoin="miter" stroke-miterlimit="3"/>
<path d="M146.00,1065.60 L200.00,1064.80 L260.00,1064.00 L300.00,1064.00 L336.00,1063.00" fill="none" stroke="#000" stroke-width="2.8" stroke-dasharray="9 5"/>
<path d="M311,1039 L317,1039.5 L317.5,1046 L311.5,1046 Z" fill="#000"/>
<path d="M182.00,1069.60 C201.67,1069.60 273.67,1069.60 300.00,1069.60 C326.33,1069.60 329.17,1069.78 340.00,1069.60 C350.83,1069.42 359.67,1069.07 365.00,1068.50 C370.33,1067.93 369.63,1067.18 372.00,1066.20 C374.37,1065.22 377.03,1064.47 379.20,1062.60 C381.37,1060.73 383.23,1057.57 385.00,1055.00 C386.77,1052.43 388.37,1050.42 389.80,1047.20 C391.23,1043.98 392.57,1039.53 393.60,1035.70 C394.63,1031.87 395.20,1027.40 396.00,1024.20 C396.80,1021.00 397.68,1019.23 398.40,1016.50 C399.12,1013.77 399.50,1010.52 400.30,1007.80 C401.10,1005.08 402.08,1002.27 403.20,1000.20 C404.32,998.13 405.72,996.37 407.00,995.40 C408.28,994.43 409.77,994.13 410.90,994.40 C412.03,994.67 412.68,995.88 413.80,997.00 C414.92,998.12 416.17,1000.10 417.60,1001.10 C419.03,1002.10 420.33,1002.35 422.40,1003.00 C424.47,1003.65 427.33,1004.35 430.00,1005.00 C432.67,1005.65 436.03,1005.63 438.40,1006.90 C440.77,1008.17 442.28,1009.72 444.20,1012.60 C446.12,1015.48 447.67,1020.67 449.90,1024.20 C452.13,1027.73 454.72,1030.92 457.60,1033.80 C460.48,1036.68 464.00,1039.42 467.20,1041.50 C470.40,1043.58 473.60,1045.18 476.80,1046.30 C480.00,1047.42 483.52,1048.37 486.40,1048.20 C489.28,1048.03 491.53,1046.42 494.10,1045.30 C496.67,1044.18 498.92,1043.10 501.80,1041.50 C504.68,1039.90 508.20,1037.30 511.40,1035.70 C514.60,1034.10 517.85,1033.10 521.00,1031.90 C524.15,1030.70 527.03,1029.73 530.30,1028.50 C533.57,1027.27 537.17,1025.38 540.60,1024.50 C544.03,1023.62 547.18,1023.13 550.90,1023.20 C554.62,1023.27 558.90,1024.18 562.90,1024.90 C566.90,1025.62 571.18,1026.50 574.90,1027.50 C578.62,1028.50 582.35,1029.62 585.20,1030.90 C588.05,1032.18 589.15,1033.48 592.00,1035.20 C594.85,1036.92 598.87,1039.48 602.30,1041.20 C605.73,1042.92 609.17,1044.50 612.60,1045.50 C616.03,1046.50 619.75,1047.20 622.90,1047.20 C626.05,1047.20 628.93,1046.78 631.50,1045.50 C634.07,1044.22 636.55,1041.58 638.30,1039.50 C640.05,1037.42 641.38,1034.08 642.00,1033.00" fill="none" stroke="#139616" stroke-width="3.8" stroke-linejoin="round" stroke-linecap="butt" />
<path d="M182.00,1068.00 C201.67,1067.92 273.67,1067.75 300.00,1067.50 C326.33,1067.25 327.97,1066.83 340.00,1066.50 C352.03,1066.17 364.87,1066.00 372.20,1065.50 C379.53,1065.00 380.75,1064.92 384.00,1063.50 C387.25,1062.08 389.62,1059.72 391.70,1057.00 C393.78,1054.28 395.22,1050.43 396.50,1047.20 C397.78,1043.97 398.60,1040.32 399.40,1037.60 C400.20,1034.88 400.67,1033.13 401.30,1030.90 C401.93,1028.67 402.40,1026.60 403.20,1024.20 C404.00,1021.80 404.98,1018.75 406.10,1016.50 C407.22,1014.25 408.78,1011.98 409.90,1010.70 C411.02,1009.42 411.67,1008.80 412.80,1008.80 C413.93,1008.80 415.25,1009.73 416.70,1010.70 C418.15,1011.67 419.90,1013.63 421.50,1014.60 C423.10,1015.57 424.77,1016.05 426.30,1016.50 C427.83,1016.95 428.68,1017.13 430.70,1017.30 C432.72,1017.47 436.00,1017.00 438.40,1017.50 C440.80,1018.00 443.02,1018.87 445.10,1020.30 C447.18,1021.73 448.82,1024.17 450.90,1026.10 C452.98,1028.03 454.88,1030.30 457.60,1031.90 C460.32,1033.50 464.00,1034.58 467.20,1035.70 C470.40,1036.82 473.92,1037.72 476.80,1038.60 C479.68,1039.48 482.25,1040.60 484.50,1041.00 C486.75,1041.40 487.73,1041.57 490.30,1041.00 C492.87,1040.43 496.38,1039.45 499.90,1037.60 C503.42,1035.75 507.57,1032.13 511.40,1029.90 C515.23,1027.67 519.07,1025.85 522.90,1024.20 C526.73,1022.55 531.17,1021.03 534.40,1020.00 C537.63,1018.97 538.98,1018.33 542.30,1018.00 C545.62,1017.67 550.58,1017.72 554.30,1018.00 C558.02,1018.28 561.17,1019.12 564.60,1019.70 C568.03,1020.28 571.47,1020.78 574.90,1021.50 C578.33,1022.22 581.78,1022.72 585.20,1024.00 C588.62,1025.28 591.98,1027.48 595.40,1029.20 C598.82,1030.92 602.27,1032.87 605.70,1034.30 C609.13,1035.73 612.57,1037.08 616.00,1037.80 C619.43,1038.52 623.15,1039.03 626.30,1038.60 C629.45,1038.17 632.47,1037.05 634.90,1035.20 C637.33,1033.35 639.72,1029.20 640.90,1027.50 C642.08,1025.80 641.82,1025.42 642.00,1025.00" fill="none" stroke="#3502f2" stroke-width="3.8" stroke-linejoin="round" stroke-linecap="butt" />
<path d="M182.00,1066.00 C195.00,1065.92 242.83,1065.92 260.00,1065.50 C277.17,1065.08 278.85,1064.30 285.00,1063.50 C291.15,1062.70 292.63,1062.08 296.90,1060.70 C301.17,1059.32 306.60,1056.92 310.60,1055.20 C314.60,1053.48 317.47,1052.00 320.90,1050.40 C324.33,1048.80 328.02,1047.43 331.20,1045.60 C334.38,1043.77 337.33,1041.22 340.00,1039.40 C342.67,1037.58 344.40,1036.02 347.20,1034.70 C350.00,1033.38 353.60,1032.13 356.80,1031.50 C360.00,1030.87 361.60,1031.00 366.40,1030.90 C371.20,1030.80 380.00,1030.73 385.60,1030.90 C391.20,1031.07 396.00,1031.58 400.00,1031.90 C404.00,1032.22 406.40,1032.65 409.60,1032.80 C412.80,1032.95 416.00,1032.95 419.20,1032.80 C422.40,1032.65 425.60,1032.53 428.80,1031.90 C432.00,1031.27 435.20,1029.65 438.40,1029.00 C441.60,1028.35 445.12,1027.68 448.00,1028.00 C450.88,1028.32 452.82,1029.62 455.70,1030.90 C458.58,1032.18 461.78,1034.10 465.30,1035.70 C468.82,1037.30 473.28,1039.07 476.80,1040.50 C480.32,1041.93 483.20,1042.87 486.40,1044.30 C489.60,1045.73 492.80,1047.65 496.00,1049.10 C499.20,1050.55 502.40,1052.03 505.60,1053.00 C508.80,1053.97 512.00,1054.42 515.20,1054.90 C518.40,1055.38 521.15,1055.67 524.80,1055.90 C528.45,1056.13 533.62,1056.32 537.10,1056.30 C540.58,1056.28 542.83,1056.32 545.70,1055.80 C548.57,1055.28 551.72,1054.50 554.30,1053.20 C556.88,1051.90 558.35,1050.57 561.20,1048.00 C564.05,1045.43 568.55,1040.93 571.40,1037.80 C574.25,1034.67 576.00,1032.63 578.30,1029.20 C580.60,1025.77 583.20,1022.07 585.20,1017.20 C587.20,1012.33 588.60,1005.72 590.30,1000.00 C592.00,994.28 593.68,989.18 595.40,982.90 C597.12,976.62 598.88,968.58 600.60,962.30 C602.32,956.02 603.98,951.48 605.70,945.20 C607.42,938.92 609.32,931.18 610.90,924.60 C612.48,918.02 613.77,911.70 615.20,905.70 C616.63,899.70 617.65,892.72 619.50,888.60 C621.35,884.48 624.02,881.28 626.30,881.00 C628.58,880.72 630.92,883.63 633.20,886.90 C635.48,890.17 638.53,897.75 640.00,900.60 C641.47,903.45 641.67,903.43 642.00,904.00" fill="none" stroke="#000" stroke-width="3.8" stroke-linejoin="round" stroke-linecap="butt" />
<path d="M182.00,1068.50 C191.67,1068.42 225.33,1068.67 240.00,1068.00 C254.67,1067.33 263.33,1065.40 270.00,1064.50 C276.67,1063.60 276.42,1063.38 280.00,1062.60 C283.58,1061.82 288.00,1061.12 291.50,1059.80 C295.00,1058.48 297.60,1056.82 301.00,1054.70 C304.40,1052.58 308.25,1050.20 311.90,1047.10 C315.55,1044.00 319.23,1039.82 322.90,1036.10 C326.57,1032.38 330.23,1029.00 333.90,1024.80 C337.57,1020.60 341.62,1014.32 344.90,1010.90 C348.18,1007.48 350.87,1005.95 353.60,1004.30 C356.33,1002.65 358.63,1001.62 361.30,1001.00 C363.97,1000.38 367.42,1000.35 369.60,1000.60 C371.78,1000.85 372.80,1001.80 374.40,1002.50 C376.00,1003.20 377.60,1004.07 379.20,1004.80 C380.80,1005.53 382.40,1006.10 384.00,1006.90 C385.60,1007.70 387.20,1008.68 388.80,1009.60 C390.40,1010.52 392.00,1011.47 393.60,1012.40 C395.20,1013.33 396.80,1014.50 398.40,1015.20 C400.00,1015.90 401.60,1016.22 403.20,1016.60 C404.80,1016.98 406.40,1017.22 408.00,1017.50 C409.60,1017.78 411.20,1018.17 412.80,1018.30 C414.40,1018.43 416.00,1018.60 417.60,1018.30 C419.20,1018.00 420.80,1017.28 422.40,1016.50 C424.00,1015.72 425.77,1014.52 427.20,1013.60 C428.63,1012.68 429.13,1011.93 431.00,1011.00 C432.87,1010.07 435.88,1008.37 438.40,1008.00 C440.92,1007.63 443.53,1007.38 446.10,1008.80 C448.67,1010.22 450.92,1013.78 453.80,1016.50 C456.68,1019.22 460.20,1022.38 463.40,1025.10 C466.60,1027.82 470.12,1030.40 473.00,1032.80 C475.88,1035.20 477.82,1037.10 480.70,1039.50 C483.58,1041.90 487.10,1044.80 490.30,1047.20 C493.50,1049.60 496.70,1051.98 499.90,1053.90 C503.10,1055.82 506.30,1057.25 509.50,1058.70 C512.70,1060.15 515.92,1061.52 519.10,1062.60 C522.28,1063.68 525.60,1064.48 528.60,1065.20 C531.60,1065.92 534.25,1066.62 537.10,1066.90 C539.95,1067.18 542.83,1067.33 545.70,1066.90 C548.57,1066.47 551.72,1066.02 554.30,1064.30 C556.88,1062.58 559.28,1059.85 561.20,1056.60 C563.12,1053.35 564.30,1049.30 565.80,1044.80 C567.30,1040.30 568.78,1034.48 570.20,1029.60 C571.62,1024.72 572.93,1020.38 574.30,1015.50 C575.67,1010.62 577.12,1005.77 578.40,1000.30 C579.68,994.83 580.82,988.55 582.00,982.70 C583.18,976.85 584.33,971.05 585.50,965.20 C586.67,959.35 587.98,953.47 589.00,947.60 C590.02,941.73 590.60,936.98 591.60,930.00 C592.60,923.02 593.78,916.67 595.00,905.70 C596.22,894.73 597.63,877.25 598.90,864.20 C600.17,851.15 601.37,839.68 602.60,827.40 C603.83,815.12 605.07,802.78 606.30,790.50 C607.53,778.22 608.62,764.45 610.00,753.70 C611.38,742.95 613.07,734.30 614.60,726.00 C616.13,717.70 617.67,708.50 619.20,703.90 C620.73,699.30 622.27,698.40 623.80,698.40 C625.33,698.40 626.72,700.22 628.40,703.90 C630.08,707.58 632.22,714.35 633.90,720.50 C635.58,726.65 637.23,734.88 638.50,740.80 C639.77,746.72 640.92,753.13 641.50,756.00 C642.08,758.87 641.92,757.67 642.00,758.00" fill="none" stroke="#1044fc" stroke-width="3.8" stroke-linejoin="round" stroke-linecap="butt" />
<path d="M182.00,1067.20 C188.33,1067.17 207.00,1067.07 220.00,1067.00 C233.00,1066.93 250.00,1067.08 260.00,1066.80 C270.00,1066.52 275.00,1065.75 280.00,1065.30 C285.00,1064.85 286.05,1064.87 290.00,1064.10 C293.95,1063.33 299.13,1062.18 303.70,1060.70 C308.27,1059.22 314.30,1056.73 317.40,1055.20 C320.50,1053.67 319.57,1053.47 322.30,1051.50 C325.03,1049.53 329.97,1046.03 333.80,1043.40 C337.63,1040.77 341.47,1037.93 345.30,1035.70 C349.13,1033.47 352.97,1031.43 356.80,1030.00 C360.63,1028.57 364.45,1027.43 368.30,1027.10 C372.15,1026.77 376.05,1027.37 379.90,1028.00 C383.75,1028.63 387.52,1029.87 391.40,1030.90 C395.28,1031.93 400.43,1033.40 403.20,1034.20 C405.97,1035.00 406.40,1035.23 408.00,1035.70 C409.60,1036.17 411.20,1036.77 412.80,1037.00 C414.40,1037.23 416.00,1037.23 417.60,1037.10 C419.20,1036.97 420.53,1036.72 422.40,1036.20 C424.27,1035.68 426.13,1035.05 428.80,1034.00 C431.47,1032.95 435.20,1030.73 438.40,1029.90 C441.60,1029.07 445.12,1028.67 448.00,1029.00 C450.88,1029.33 452.82,1030.78 455.70,1031.90 C458.58,1033.02 461.78,1034.27 465.30,1035.70 C468.82,1037.13 473.28,1038.90 476.80,1040.50 C480.32,1042.10 483.20,1043.53 486.40,1045.30 C489.60,1047.07 492.80,1049.33 496.00,1051.10 C499.20,1052.87 502.40,1054.63 505.60,1055.90 C508.80,1057.17 512.00,1057.90 515.20,1058.70 C518.40,1059.50 521.72,1060.28 524.80,1060.70 C527.88,1061.12 530.22,1061.02 533.70,1061.20 C537.18,1061.38 542.27,1062.00 545.70,1061.80 C549.13,1061.60 551.43,1060.87 554.30,1060.00 C557.17,1059.13 560.05,1058.02 562.90,1056.60 C565.75,1055.18 568.83,1053.50 571.40,1051.50 C573.97,1049.50 576.30,1047.47 578.30,1044.60 C580.30,1041.73 581.97,1037.73 583.40,1034.30 C584.83,1030.87 585.75,1028.00 586.90,1024.00 C588.05,1020.00 589.17,1014.87 590.30,1010.30 C591.43,1005.73 592.55,1001.73 593.70,996.60 C594.85,991.47 596.05,985.22 597.20,979.50 C598.35,973.78 599.47,968.60 600.60,962.30 C601.73,956.00 602.87,948.85 604.00,941.70 C605.13,934.55 606.25,926.83 607.40,919.40 C608.55,911.97 609.85,904.77 610.90,897.10 C611.95,889.43 612.32,881.33 613.70,873.40 C615.08,865.47 617.37,855.33 619.20,849.50 C621.03,843.67 622.85,840.72 624.70,838.40 C626.55,836.08 628.45,835.30 630.30,835.60 C632.15,835.90 634.12,838.50 635.80,840.20 C637.48,841.90 639.37,844.50 640.40,845.80 C641.43,847.10 641.73,847.63 642.00,848.00" fill="none" stroke="#fc2404" stroke-width="3.8" stroke-linejoin="round" stroke-linecap="butt" />
</g>
<line x1="376.20" y1="692.30" x2="403.90" y2="692.30" stroke="#000" stroke-width="3.6" stroke-linecap="butt"/>
<line x1="376.20" y1="719.90" x2="403.90" y2="719.90" stroke="#fc2404" stroke-width="3.6" stroke-linecap="butt"/>
<line x1="376.20" y1="747.60" x2="403.90" y2="747.60" stroke="#1044fc" stroke-width="3.6" stroke-linecap="butt"/>
<line x1="376.20" y1="773.90" x2="403.90" y2="773.90" stroke="#139616" stroke-width="3.6" stroke-linecap="butt"/>
<line x1="376.20" y1="801.40" x2="403.90" y2="801.40" stroke="#3502f2" stroke-width="3.6" stroke-linecap="butt"/>
<text x="407.00" y="698.00" font-size="24.5" text-anchor="start" font-weight="normal" ><tspan font-weight="bold">iMeQn</tspan><tspan dx="-0.8">·</tspan><tspan dx="-2.2">BF</tspan><tspan font-size="15.5" dy="5" dx="-0.6">4</tspan><tspan dy="-5" dx="2.0"> w/ Et</tspan><tspan font-size="15.5" dy="5" dx="0">3</tspan><tspan dy="-5" dx="-0.8">N</tspan></text>
<text x="407.00" y="725.80" font-size="24.5" text-anchor="start" font-weight="normal" ><tspan font-weight="bold">iMeQn</tspan><tspan dx="-0.8">·</tspan><tspan dx="-2.2">BF</tspan><tspan font-size="15.5" dy="5" dx="-0.6">4</tspan></text>
<text x="407.00" y="752.60" font-size="24.5" text-anchor="start" font-weight="normal" ><tspan font-weight="bold">Me<tspan font-size="15.5" dy="5">2</tspan><tspan dy="-5">Qn</tspan></tspan><tspan dx="-0.8">·</tspan><tspan dx="-2.2">2BF</tspan><tspan font-size="15.5" dy="5" dx="-0.6">4</tspan></text>
<text x="407.00" y="779.00" font-size="24.5" text-anchor="start" font-weight="normal" ><tspan font-weight="bold">MeQn</tspan><tspan dx="-0.8">·</tspan><tspan dx="-2.2">BF</tspan><tspan font-size="15.5" dy="5" dx="-0.6">4</tspan></text>
<text x="407.00" y="805.40" font-size="24.5" text-anchor="start" font-weight="normal" ><tspan font-weight="bold">Qn</tspan></text>
</svg></body></html>
